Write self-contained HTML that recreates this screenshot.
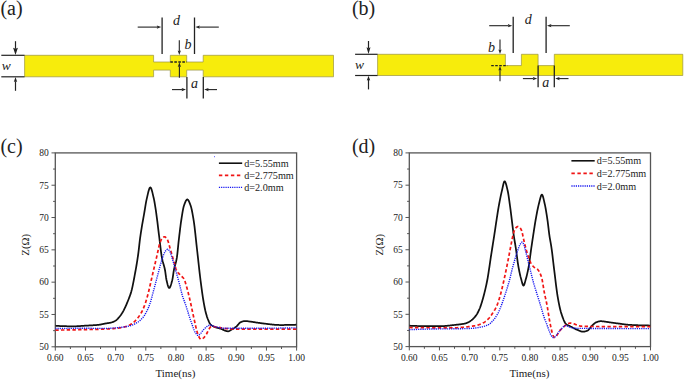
<!DOCTYPE html>
<html><head><meta charset="utf-8"><title>figure</title>
<style>html,body{margin:0;padding:0;background:#fff;width:685px;height:381px;overflow:hidden}</style>
</head><body>
<svg width="685" height="381" viewBox="0 0 685 381" style="display:block;font-family:'Liberation Serif',serif"><text x="0.4" y="14.7" font-size="20" text-anchor="start" fill="#222" style="" >(a)</text>
<path d="M24.6,55.3 L153.6,55.3 L153.6,62.0 L170.3,62.0 L170.3,55.3 L186.7,55.3 L186.7,62.0 L203.2,62.0 L203.2,55.3 L333.5,55.3 L333.5,76.8 L203.2,76.8 L203.2,70.1 L186.7,70.1 L186.7,76.8 L170.3,76.8 L170.3,70.1 L153.6,70.1 L153.6,76.8 L24.6,76.8 Z" fill="#f7ec0c" stroke="#9a9440" stroke-width="0.7"/>
<line x1="1.3" y1="55.3" x2="24.6" y2="55.3" stroke="#222" stroke-width="1.2" />
<line x1="1.3" y1="76.8" x2="24.6" y2="76.8" stroke="#222" stroke-width="1.2" />
<line x1="15.50" y1="41.20" x2="15.50" y2="48.81" stroke="#222" stroke-width="1.2"/>
<path d="M15.50,55.00 L13.10,47.80 L15.50,48.81 L17.90,47.80 Z" fill="#222"/>
<line x1="15.50" y1="90.80" x2="15.50" y2="81.23" stroke="#222" stroke-width="1.2"/>
<path d="M15.50,77.10 L17.20,81.90 L15.50,81.23 L13.80,81.90 Z" fill="#222"/>
<text x="1.8" y="70.3" font-size="13.5" text-anchor="start" fill="#222" style="font-style:italic;" >w</text>
<line x1="162.1" y1="17.5" x2="162.1" y2="54" stroke="#222" stroke-width="1.3" />
<line x1="194.5" y1="17.5" x2="194.5" y2="54" stroke="#222" stroke-width="1.3" />
<line x1="137.70" y1="27.10" x2="157.42" y2="27.10" stroke="#222" stroke-width="1.1"/>
<path d="M161.20,27.10 L156.80,28.70 L157.42,27.10 L156.80,25.50 Z" fill="#222"/>
<line x1="218.80" y1="27.10" x2="199.18" y2="27.10" stroke="#222" stroke-width="1.1"/>
<path d="M195.40,27.10 L199.80,25.50 L199.18,27.10 L199.80,28.70 Z" fill="#222"/>
<text x="173.0" y="25.0" font-size="14" text-anchor="start" fill="#222" style="font-style:italic;" >d</text>
<line x1="179.30" y1="40.20" x2="179.30" y2="51.14" stroke="#222" stroke-width="1.1"/>
<path d="M179.30,55.10 L177.70,50.50 L179.30,51.14 L180.90,50.50 Z" fill="#222"/>
<text x="184.6" y="48.7" font-size="14" text-anchor="start" fill="#222" style="font-style:italic;" >b</text>
<line x1="170.3" y1="62.0" x2="186.7" y2="62.0" stroke="#222" stroke-width="1.3" stroke-dasharray="2.6,1.4"/>
<line x1="179.40" y1="77.80" x2="179.40" y2="66.26" stroke="#222" stroke-width="1.1"/>
<path d="M179.40,62.30 L181.00,66.90 L179.40,66.26 L177.80,66.90 Z" fill="#222"/>
<line x1="186.9" y1="77.0" x2="186.9" y2="98.6" stroke="#222" stroke-width="1.3" />
<line x1="203.3" y1="77.0" x2="203.3" y2="98.6" stroke="#222" stroke-width="1.3" />
<line x1="172.00" y1="89.60" x2="182.22" y2="89.60" stroke="#222" stroke-width="1.1"/>
<path d="M186.00,89.60 L181.60,91.20 L182.22,89.60 L181.60,88.00 Z" fill="#222"/>
<line x1="217.00" y1="89.60" x2="207.98" y2="89.60" stroke="#222" stroke-width="1.1"/>
<path d="M204.20,89.60 L208.60,88.00 L207.98,89.60 L208.60,91.20 Z" fill="#222"/>
<text x="191.0" y="88.2" font-size="14" text-anchor="start" fill="#222" style="font-style:italic;" >a</text>
<text x="351.9" y="14.8" font-size="20" text-anchor="start" fill="#222" style="" >(b)</text>
<path d="M377.6,54.3 L505.4,54.3 L505.4,65.6 L521.4,65.6 L521.4,54.3 L538.1,54.3 L538.1,65.6 L554.3,65.6 L554.3,54.3 L682.8,54.3 L682.8,75.5 L377.6,75.5 Z" fill="#f7ec0c" stroke="#9a9440" stroke-width="0.7"/>
<line x1="355.1" y1="54.3" x2="377.6" y2="54.3" stroke="#222" stroke-width="1.2" />
<line x1="355.1" y1="75.5" x2="377.6" y2="75.5" stroke="#222" stroke-width="1.2" />
<line x1="368.50" y1="41.00" x2="368.50" y2="48.15" stroke="#222" stroke-width="1.2"/>
<path d="M368.50,54.00 L366.50,47.20 L368.50,48.15 L370.50,47.20 Z" fill="#222"/>
<line x1="368.50" y1="89.40" x2="368.50" y2="79.93" stroke="#222" stroke-width="1.2"/>
<path d="M368.50,75.80 L370.20,80.60 L368.50,79.93 L366.80,80.60 Z" fill="#222"/>
<text x="355.0" y="69.2" font-size="13.5" text-anchor="start" fill="#222" style="font-style:italic;" >w</text>
<line x1="513.2" y1="16.7" x2="513.2" y2="53.1" stroke="#222" stroke-width="1.3" />
<line x1="546.1" y1="16.7" x2="546.1" y2="53.1" stroke="#222" stroke-width="1.3" />
<line x1="489.20" y1="25.70" x2="508.52" y2="25.70" stroke="#222" stroke-width="1.1"/>
<path d="M512.30,25.70 L507.90,27.30 L508.52,25.70 L507.90,24.10 Z" fill="#222"/>
<line x1="569.80" y1="25.70" x2="550.78" y2="25.70" stroke="#222" stroke-width="1.1"/>
<path d="M547.00,25.70 L551.40,24.10 L550.78,25.70 L551.40,27.30 Z" fill="#222"/>
<text x="524.8" y="24.4" font-size="14" text-anchor="start" fill="#222" style="font-style:italic;" >d</text>
<line x1="500.00" y1="39.40" x2="500.00" y2="50.14" stroke="#222" stroke-width="1.1"/>
<path d="M500.00,54.10 L498.40,49.50 L500.00,50.14 L501.60,49.50 Z" fill="#222"/>
<text x="488.0" y="52.4" font-size="14" text-anchor="start" fill="#222" style="font-style:italic;" >b</text>
<line x1="491.2" y1="65.6" x2="507.4" y2="65.6" stroke="#222" stroke-width="1.3" stroke-dasharray="2.6,1.4"/>
<line x1="500.00" y1="81.20" x2="500.00" y2="69.86" stroke="#222" stroke-width="1.1"/>
<path d="M500.00,65.90 L501.60,70.50 L500.00,69.86 L498.40,70.50 Z" fill="#222"/>
<line x1="538.1" y1="65.6" x2="538.1" y2="87.3" stroke="#222" stroke-width="1.3" />
<line x1="554.3" y1="65.6" x2="554.3" y2="87.3" stroke="#222" stroke-width="1.3" />
<line x1="522.90" y1="78.60" x2="533.42" y2="78.60" stroke="#222" stroke-width="1.1"/>
<path d="M537.20,78.60 L532.80,80.20 L533.42,78.60 L532.80,77.00 Z" fill="#222"/>
<line x1="568.50" y1="78.60" x2="558.98" y2="78.60" stroke="#222" stroke-width="1.1"/>
<path d="M555.20,78.60 L559.60,77.00 L558.98,78.60 L559.60,80.20 Z" fill="#222"/>
<text x="542.2" y="86.9" font-size="14" text-anchor="start" fill="#222" style="font-style:italic;" >a</text>
<rect x="55.3" y="152.9" width="241.3" height="193.9" fill="none" stroke="#555" stroke-width="1.3"/>
<line x1="51.5" y1="346.8" x2="55.3" y2="346.8" stroke="#555" stroke-width="1.0" />
<text x="48.8" y="350.1" font-size="9.5" text-anchor="end" fill="#222" style="" >50</text>
<line x1="53.099999999999994" y1="330.64" x2="55.3" y2="330.64" stroke="#555" stroke-width="1.0" />
<line x1="51.5" y1="314.48" x2="55.3" y2="314.48" stroke="#555" stroke-width="1.0" />
<text x="48.8" y="317.78333333333336" font-size="9.5" text-anchor="end" fill="#222" style="" >55</text>
<line x1="53.099999999999994" y1="298.32" x2="55.3" y2="298.32" stroke="#555" stroke-width="1.0" />
<line x1="51.5" y1="282.17" x2="55.3" y2="282.17" stroke="#555" stroke-width="1.0" />
<text x="48.8" y="285.4666666666667" font-size="9.5" text-anchor="end" fill="#222" style="" >60</text>
<line x1="53.099999999999994" y1="266.01" x2="55.3" y2="266.01" stroke="#555" stroke-width="1.0" />
<line x1="51.5" y1="249.85" x2="55.3" y2="249.85" stroke="#555" stroke-width="1.0" />
<text x="48.8" y="253.15000000000003" font-size="9.5" text-anchor="end" fill="#222" style="" >65</text>
<line x1="53.099999999999994" y1="233.69" x2="55.3" y2="233.69" stroke="#555" stroke-width="1.0" />
<line x1="51.5" y1="217.53" x2="55.3" y2="217.53" stroke="#555" stroke-width="1.0" />
<text x="48.8" y="220.83333333333334" font-size="9.5" text-anchor="end" fill="#222" style="" >70</text>
<line x1="53.099999999999994" y1="201.38" x2="55.3" y2="201.38" stroke="#555" stroke-width="1.0" />
<line x1="51.5" y1="185.22" x2="55.3" y2="185.22" stroke="#555" stroke-width="1.0" />
<text x="48.8" y="188.51666666666668" font-size="9.5" text-anchor="end" fill="#222" style="" >75</text>
<line x1="53.099999999999994" y1="169.06" x2="55.3" y2="169.06" stroke="#555" stroke-width="1.0" />
<line x1="51.5" y1="152.9" x2="55.3" y2="152.9" stroke="#555" stroke-width="1.0" />
<text x="48.8" y="156.20000000000002" font-size="9.5" text-anchor="end" fill="#222" style="" >80</text>
<line x1="55.3" y1="346.8" x2="55.3" y2="350.6" stroke="#555" stroke-width="1.0" />
<text x="55.3" y="360.7" font-size="9.5" text-anchor="middle" fill="#222" style="" >0.60</text>
<line x1="70.38" y1="346.8" x2="70.38" y2="349.0" stroke="#555" stroke-width="1.0" />
<line x1="85.46" y1="346.8" x2="85.46" y2="350.6" stroke="#555" stroke-width="1.0" />
<text x="85.4625" y="360.7" font-size="9.5" text-anchor="middle" fill="#222" style="" >0.65</text>
<line x1="100.54" y1="346.8" x2="100.54" y2="349.0" stroke="#555" stroke-width="1.0" />
<line x1="115.62" y1="346.8" x2="115.62" y2="350.6" stroke="#555" stroke-width="1.0" />
<text x="115.625" y="360.7" font-size="9.5" text-anchor="middle" fill="#222" style="" >0.70</text>
<line x1="130.71" y1="346.8" x2="130.71" y2="349.0" stroke="#555" stroke-width="1.0" />
<line x1="145.79" y1="346.8" x2="145.79" y2="350.6" stroke="#555" stroke-width="1.0" />
<text x="145.78750000000002" y="360.7" font-size="9.5" text-anchor="middle" fill="#222" style="" >0.75</text>
<line x1="160.87" y1="346.8" x2="160.87" y2="349.0" stroke="#555" stroke-width="1.0" />
<line x1="175.95" y1="346.8" x2="175.95" y2="350.6" stroke="#555" stroke-width="1.0" />
<text x="175.95" y="360.7" font-size="9.5" text-anchor="middle" fill="#222" style="" >0.80</text>
<line x1="191.03" y1="346.8" x2="191.03" y2="349.0" stroke="#555" stroke-width="1.0" />
<line x1="206.11" y1="346.8" x2="206.11" y2="350.6" stroke="#555" stroke-width="1.0" />
<text x="206.1125" y="360.7" font-size="9.5" text-anchor="middle" fill="#222" style="" >0.85</text>
<line x1="221.19" y1="346.8" x2="221.19" y2="349.0" stroke="#555" stroke-width="1.0" />
<line x1="236.28" y1="346.8" x2="236.28" y2="350.6" stroke="#555" stroke-width="1.0" />
<text x="236.27500000000003" y="360.7" font-size="9.5" text-anchor="middle" fill="#222" style="" >0.90</text>
<line x1="251.36" y1="346.8" x2="251.36" y2="349.0" stroke="#555" stroke-width="1.0" />
<line x1="266.44" y1="346.8" x2="266.44" y2="350.6" stroke="#555" stroke-width="1.0" />
<text x="266.4375" y="360.7" font-size="9.5" text-anchor="middle" fill="#222" style="" >0.95</text>
<line x1="281.52" y1="346.8" x2="281.52" y2="349.0" stroke="#555" stroke-width="1.0" />
<line x1="296.6" y1="346.8" x2="296.6" y2="350.6" stroke="#555" stroke-width="1.0" />
<text x="296.6" y="360.7" font-size="9.5" text-anchor="middle" fill="#222" style="" >1.00</text>
<text x="175.45000000000002" y="377.3" font-size="11" text-anchor="middle" fill="#1a1a1a" style="" >Time(ns)</text>
<text x="0" y="0" font-size="10.7" text-anchor="middle" fill="#1a1a1a" transform="translate(28.999999999999996,244.85000000000002) rotate(-90)">Z(Ω)</text>
<clipPath id="clip55"><rect x="55.3" y="152.9" width="241.3" height="193.9"/></clipPath>
<g clip-path="url(#clip55)" fill="none">
<path d="M55.30,325.70 L55.70,325.73 L56.10,325.77 L56.50,325.80 L56.90,325.83 L57.30,325.86 L57.70,325.89 L58.10,325.91 L58.50,325.94 L58.90,325.96 L59.30,325.98 L59.70,326.01 L60.10,326.03 L60.50,326.05 L60.90,326.07 L61.30,326.09 L61.70,326.10 L62.10,326.12 L62.50,326.13 L62.90,326.15 L63.30,326.16 L63.70,326.18 L64.10,326.19 L64.50,326.20 L64.90,326.21 L65.30,326.22 L65.70,326.23 L66.10,326.24 L66.50,326.24 L66.90,326.25 L67.30,326.26 L67.70,326.26 L68.10,326.27 L68.50,326.27 L68.90,326.28 L69.30,326.28 L69.70,326.29 L70.10,326.29 L70.50,326.29 L70.90,326.29 L71.30,326.29 L71.70,326.30 L72.10,326.30 L72.50,326.30 L72.90,326.30 L73.30,326.30 L73.70,326.30 L74.10,326.30 L74.50,326.30 L74.90,326.29 L75.30,326.28 L75.70,326.27 L76.10,326.26 L76.50,326.25 L76.90,326.23 L77.30,326.21 L77.70,326.19 L78.10,326.17 L78.50,326.15 L78.90,326.12 L79.30,326.09 L79.70,326.07 L80.10,326.04 L80.50,326.01 L80.90,325.98 L81.30,325.95 L81.70,325.93 L82.10,325.90 L82.50,325.87 L82.90,325.84 L83.30,325.81 L83.70,325.78 L84.10,325.76 L84.50,325.73 L84.90,325.71 L85.30,325.68 L85.70,325.66 L86.10,325.64 L86.50,325.61 L86.90,325.59 L87.30,325.57 L87.70,325.55 L88.10,325.53 L88.50,325.51 L88.90,325.49 L89.30,325.47 L89.70,325.45 L90.10,325.43 L90.50,325.40 L90.90,325.38 L91.30,325.36 L91.70,325.34 L92.10,325.32 L92.50,325.29 L92.90,325.27 L93.30,325.24 L93.70,325.22 L94.10,325.19 L94.50,325.17 L94.90,325.14 L95.30,325.11 L95.70,325.08 L96.10,325.05 L96.50,325.01 L96.90,324.98 L97.30,324.95 L97.70,324.91 L98.10,324.87 L98.50,324.83 L98.90,324.79 L99.30,324.74 L99.70,324.68 L100.10,324.62 L100.50,324.55 L100.90,324.47 L101.30,324.39 L101.70,324.31 L102.10,324.22 L102.50,324.13 L102.90,324.04 L103.30,323.95 L103.70,323.86 L104.10,323.78 L104.50,323.70 L104.90,323.62 L105.30,323.55 L105.70,323.48 L106.10,323.41 L106.50,323.35 L106.90,323.29 L107.30,323.23 L107.70,323.17 L108.10,323.11 L108.50,323.05 L108.90,322.99 L109.30,322.92 L109.70,322.85 L110.10,322.77 L110.50,322.69 L110.90,322.60 L111.30,322.50 L111.70,322.39 L112.10,322.27 L112.50,322.13 L112.90,321.99 L113.30,321.82 L113.70,321.65 L114.10,321.46 L114.50,321.26 L114.90,321.05 L115.30,320.82 L115.70,320.57 L116.10,320.29 L116.50,319.97 L116.90,319.61 L117.30,319.22 L117.70,318.81 L118.10,318.37 L118.50,317.92 L118.90,317.45 L119.30,316.98 L119.70,316.50 L120.10,316.01 L120.50,315.48 L120.90,314.93 L121.30,314.35 L121.70,313.75 L122.10,313.12 L122.50,312.47 L122.90,311.80 L123.30,311.09 L123.70,310.35 L124.10,309.56 L124.50,308.74 L124.90,307.90 L125.30,307.04 L125.70,306.16 L126.10,305.28 L126.50,304.36 L126.90,303.42 L127.30,302.45 L127.70,301.46 L128.10,300.46 L128.50,299.45 L128.90,298.45 L129.30,297.44 L129.70,296.39 L130.10,295.29 L130.50,294.11 L130.90,292.86 L131.30,291.51 L131.70,290.01 L132.10,288.36 L132.50,286.57 L132.90,284.66 L133.30,282.66 L133.70,280.59 L134.10,278.47 L134.50,276.32 L134.90,274.16 L135.30,271.99 L135.70,269.80 L136.10,267.55 L136.50,265.24 L136.90,262.84 L137.30,260.35 L137.70,257.74 L138.10,255.00 L138.50,251.95 L138.90,248.54 L139.30,244.97 L139.70,241.46 L140.10,238.18 L140.50,235.30 L140.90,232.60 L141.30,230.03 L141.70,227.56 L142.10,225.17 L142.50,222.85 L142.90,220.57 L143.30,218.31 L143.70,216.06 L144.10,213.80 L144.50,211.50 L144.90,209.11 L145.30,206.65 L145.70,204.22 L146.10,201.92 L146.50,199.85 L146.90,198.08 L147.30,196.36 L147.70,194.62 L148.10,192.92 L148.50,191.32 L148.90,189.92 L149.30,188.75 L149.70,187.91 L150.10,187.46 L150.50,187.46 L150.90,187.91 L151.30,188.74 L151.70,189.89 L152.10,191.29 L152.50,192.87 L152.90,194.58 L153.30,196.33 L153.70,198.07 L154.10,199.87 L154.50,201.97 L154.90,204.32 L155.30,206.85 L155.70,209.49 L156.10,212.18 L156.50,215.02 L156.90,218.05 L157.30,221.21 L157.70,224.47 L158.10,227.77 L158.50,231.07 L158.90,234.32 L159.30,237.49 L159.70,240.79 L160.10,244.22 L160.50,247.63 L160.90,250.92 L161.30,253.94 L161.70,256.57 L162.10,258.71 L162.50,260.49 L162.90,262.02 L163.30,263.41 L163.70,264.75 L164.10,266.15 L164.50,267.70 L164.90,269.50 L165.30,271.82 L165.70,274.78 L166.10,277.73 L166.50,280.00 L166.90,281.71 L167.30,283.38 L167.70,284.91 L168.10,286.23 L168.50,287.24 L168.90,287.85 L169.30,287.99 L169.70,287.70 L170.10,287.08 L170.50,286.17 L170.90,285.03 L171.30,283.71 L171.70,282.27 L172.10,280.76 L172.50,279.10 L172.90,276.65 L173.30,273.82 L173.70,271.12 L174.10,269.03 L174.50,267.33 L174.90,265.83 L175.30,264.44 L175.70,263.01 L176.10,261.45 L176.50,259.62 L176.90,257.39 L177.30,254.35 L177.70,250.66 L178.10,246.66 L178.50,242.71 L178.90,239.15 L179.30,235.72 L179.70,232.30 L180.10,228.95 L180.50,225.74 L180.90,222.73 L181.30,220.00 L181.70,217.41 L182.10,214.85 L182.50,212.40 L182.90,210.13 L183.30,208.13 L183.70,206.47 L184.10,205.22 L184.50,204.12 L184.90,203.06 L185.30,202.07 L185.70,201.19 L186.10,200.46 L186.50,199.89 L186.90,199.53 L187.30,199.40 L187.70,199.53 L188.10,199.91 L188.50,200.49 L188.90,201.24 L189.30,202.12 L189.70,203.10 L190.10,204.15 L190.50,205.23 L190.90,206.39 L191.30,207.84 L191.70,209.54 L192.10,211.46 L192.50,213.56 L192.90,215.81 L193.30,218.18 L193.70,220.63 L194.10,223.38 L194.50,226.48 L194.90,229.85 L195.30,233.42 L195.70,237.12 L196.10,240.87 L196.50,244.60 L196.90,248.24 L197.30,251.75 L197.70,255.33 L198.10,258.96 L198.50,262.62 L198.90,266.26 L199.30,269.86 L199.70,273.37 L200.10,276.76 L200.50,280.00 L200.90,283.13 L201.30,286.21 L201.70,289.21 L202.10,292.11 L202.50,294.90 L202.90,297.53 L203.30,300.00 L203.70,302.34 L204.10,304.59 L204.50,306.73 L204.90,308.73 L205.30,310.56 L205.70,312.19 L206.10,313.70 L206.50,315.11 L206.90,316.43 L207.30,317.63 L207.70,318.74 L208.10,319.74 L208.50,320.70 L208.90,321.62 L209.30,322.47 L209.70,323.22 L210.10,323.84 L210.50,324.30 L210.90,324.69 L211.30,325.03 L211.70,325.35 L212.10,325.63 L212.50,325.89 L212.90,326.13 L213.30,326.34 L213.70,326.54 L214.10,326.73 L214.50,326.90 L214.90,327.06 L215.30,327.21 L215.70,327.35 L216.10,327.47 L216.50,327.59 L216.90,327.70 L217.30,327.81 L217.70,327.91 L218.10,328.01 L218.50,328.11 L218.90,328.21 L219.30,328.32 L219.70,328.42 L220.10,328.54 L220.50,328.66 L220.90,328.79 L221.30,328.94 L221.70,329.10 L222.10,329.28 L222.50,329.48 L222.90,329.68 L223.30,329.88 L223.70,330.08 L224.10,330.26 L224.50,330.43 L224.90,330.57 L225.30,330.69 L225.70,330.82 L226.10,330.94 L226.50,331.05 L226.90,331.15 L227.30,331.23 L227.70,331.28 L228.10,331.30 L228.50,331.26 L228.90,331.17 L229.30,331.01 L229.70,330.82 L230.10,330.59 L230.50,330.35 L230.90,330.09 L231.30,329.83 L231.70,329.58 L232.10,329.34 L232.50,329.11 L232.90,328.88 L233.30,328.64 L233.70,328.39 L234.10,328.13 L234.50,327.86 L234.90,327.59 L235.30,327.30 L235.70,327.01 L236.10,326.70 L236.50,326.38 L236.90,326.03 L237.30,325.62 L237.70,325.16 L238.10,324.68 L238.50,324.18 L238.90,323.70 L239.30,323.25 L239.70,322.86 L240.10,322.53 L240.50,322.30 L240.90,322.12 L241.30,321.95 L241.70,321.79 L242.10,321.63 L242.50,321.49 L242.90,321.36 L243.30,321.25 L243.70,321.15 L244.10,321.08 L244.50,321.03 L244.90,321.00 L245.30,321.00 L245.70,321.01 L246.10,321.04 L246.50,321.07 L246.90,321.11 L247.30,321.15 L247.70,321.21 L248.10,321.26 L248.50,321.32 L248.90,321.38 L249.30,321.45 L249.70,321.51 L250.10,321.57 L250.50,321.63 L250.90,321.69 L251.30,321.74 L251.70,321.79 L252.10,321.85 L252.50,321.90 L252.90,321.96 L253.30,322.02 L253.70,322.08 L254.10,322.14 L254.50,322.20 L254.90,322.26 L255.30,322.32 L255.70,322.38 L256.10,322.45 L256.50,322.51 L256.90,322.57 L257.30,322.63 L257.70,322.69 L258.10,322.76 L258.50,322.82 L258.90,322.88 L259.30,322.94 L259.70,322.99 L260.10,323.05 L260.50,323.11 L260.90,323.16 L261.30,323.21 L261.70,323.27 L262.10,323.32 L262.50,323.36 L262.90,323.41 L263.30,323.46 L263.70,323.51 L264.10,323.55 L264.50,323.60 L264.90,323.65 L265.30,323.70 L265.70,323.75 L266.10,323.80 L266.50,323.85 L266.90,323.90 L267.30,323.95 L267.70,324.01 L268.10,324.06 L268.50,324.11 L268.90,324.16 L269.30,324.20 L269.70,324.25 L270.10,324.30 L270.50,324.35 L270.90,324.39 L271.30,324.44 L271.70,324.48 L272.10,324.53 L272.50,324.57 L272.90,324.61 L273.30,324.65 L273.70,324.69 L274.10,324.72 L274.50,324.76 L274.90,324.79 L275.30,324.82 L275.70,324.85 L276.10,324.87 L276.50,324.90 L276.90,324.92 L277.30,324.94 L277.70,324.96 L278.10,324.97 L278.50,324.98 L278.90,324.99 L279.30,325.00 L279.70,325.00 L280.10,325.00 L280.50,325.00 L280.90,325.00 L281.30,325.00 L281.70,325.00 L282.10,325.00 L282.50,325.00 L282.90,325.00 L283.30,325.00 L283.70,325.00 L284.10,325.00 L284.50,324.99 L284.90,324.99 L285.30,324.99 L285.70,324.99 L286.10,324.98 L286.50,324.98 L286.90,324.98 L287.30,324.97 L287.70,324.97 L288.10,324.96 L288.50,324.96 L288.90,324.95 L289.30,324.95 L289.70,324.94 L290.10,324.93 L290.50,324.92 L290.90,324.91 L291.30,324.90 L291.70,324.89 L292.10,324.88 L292.50,324.87 L292.90,324.86 L293.30,324.84 L293.70,324.83 L294.10,324.81 L294.50,324.80 L294.90,324.78 L295.30,324.76 L295.70,324.74 L296.10,324.72 L296.50,324.70" stroke="#111" stroke-width="1.75" stroke-linejoin="round"/>
<path d="M55.30,330.10 L55.70,330.10 L56.10,330.09 L56.50,330.09 L56.90,330.08 L57.30,330.08 L57.70,330.07 L58.10,330.06 L58.50,330.06 L58.90,330.05 L59.30,330.05 L59.70,330.04 L60.10,330.04 L60.50,330.03 L60.90,330.03 L61.30,330.02 L61.70,330.02 L62.10,330.01 L62.50,330.00 L62.90,330.00 L63.30,329.99 L63.70,329.99 L64.10,329.98 L64.50,329.97 L64.90,329.97 L65.30,329.96 L65.70,329.95 L66.10,329.95 L66.50,329.94 L66.90,329.94 L67.30,329.93 L67.70,329.92 L68.10,329.92 L68.50,329.91 L68.90,329.90 L69.30,329.90 L69.70,329.89 L70.10,329.88 L70.50,329.88 L70.90,329.87 L71.30,329.86 L71.70,329.85 L72.10,329.85 L72.50,329.84 L72.90,329.83 L73.30,329.83 L73.70,329.82 L74.10,329.81 L74.50,329.80 L74.90,329.80 L75.30,329.79 L75.70,329.78 L76.10,329.77 L76.50,329.77 L76.90,329.76 L77.30,329.75 L77.70,329.74 L78.10,329.74 L78.50,329.73 L78.90,329.72 L79.30,329.71 L79.70,329.71 L80.10,329.70 L80.50,329.69 L80.90,329.68 L81.30,329.67 L81.70,329.67 L82.10,329.66 L82.50,329.65 L82.90,329.64 L83.30,329.63 L83.70,329.63 L84.10,329.62 L84.50,329.61 L84.90,329.60 L85.30,329.59 L85.70,329.59 L86.10,329.58 L86.50,329.57 L86.90,329.56 L87.30,329.55 L87.70,329.55 L88.10,329.54 L88.50,329.53 L88.90,329.52 L89.30,329.51 L89.70,329.51 L90.10,329.50 L90.50,329.49 L90.90,329.48 L91.30,329.47 L91.70,329.47 L92.10,329.46 L92.50,329.45 L92.90,329.44 L93.30,329.43 L93.70,329.42 L94.10,329.41 L94.50,329.41 L94.90,329.40 L95.30,329.39 L95.70,329.38 L96.10,329.37 L96.50,329.36 L96.90,329.35 L97.30,329.34 L97.70,329.33 L98.10,329.32 L98.50,329.31 L98.90,329.30 L99.30,329.29 L99.70,329.27 L100.10,329.26 L100.50,329.25 L100.90,329.24 L101.30,329.23 L101.70,329.21 L102.10,329.20 L102.50,329.19 L102.90,329.18 L103.30,329.16 L103.70,329.15 L104.10,329.13 L104.50,329.12 L104.90,329.10 L105.30,329.09 L105.70,329.07 L106.10,329.05 L106.50,329.04 L106.90,329.02 L107.30,329.00 L107.70,328.98 L108.10,328.96 L108.50,328.93 L108.90,328.91 L109.30,328.89 L109.70,328.86 L110.10,328.84 L110.50,328.81 L110.90,328.78 L111.30,328.76 L111.70,328.73 L112.10,328.70 L112.50,328.66 L112.90,328.63 L113.30,328.60 L113.70,328.57 L114.10,328.53 L114.50,328.49 L114.90,328.46 L115.30,328.42 L115.70,328.38 L116.10,328.34 L116.50,328.30 L116.90,328.25 L117.30,328.20 L117.70,328.15 L118.10,328.10 L118.50,328.04 L118.90,327.98 L119.30,327.92 L119.70,327.86 L120.10,327.80 L120.50,327.73 L120.90,327.66 L121.30,327.58 L121.70,327.51 L122.10,327.43 L122.50,327.34 L122.90,327.26 L123.30,327.17 L123.70,327.08 L124.10,326.99 L124.50,326.89 L124.90,326.79 L125.30,326.69 L125.70,326.58 L126.10,326.47 L126.50,326.35 L126.90,326.22 L127.30,326.07 L127.70,325.92 L128.10,325.75 L128.50,325.57 L128.90,325.38 L129.30,325.18 L129.70,324.97 L130.10,324.75 L130.50,324.53 L130.90,324.29 L131.30,324.04 L131.70,323.79 L132.10,323.53 L132.50,323.26 L132.90,322.97 L133.30,322.65 L133.70,322.31 L134.10,321.95 L134.50,321.56 L134.90,321.16 L135.30,320.74 L135.70,320.31 L136.10,319.86 L136.50,319.41 L136.90,318.94 L137.30,318.46 L137.70,317.98 L138.10,317.48 L138.50,316.97 L138.90,316.43 L139.30,315.87 L139.70,315.29 L140.10,314.68 L140.50,314.05 L140.90,313.39 L141.30,312.70 L141.70,311.98 L142.10,311.23 L142.50,310.41 L142.90,309.54 L143.30,308.62 L143.70,307.65 L144.10,306.64 L144.50,305.58 L144.90,304.50 L145.30,303.36 L145.70,302.14 L146.10,300.86 L146.50,299.52 L146.90,298.14 L147.30,296.72 L147.70,295.26 L148.10,293.72 L148.50,292.11 L148.90,290.46 L149.30,288.78 L149.70,287.05 L150.10,285.31 L150.50,283.54 L150.90,281.76 L151.30,279.98 L151.70,278.20 L152.10,276.44 L152.50,274.70 L152.90,272.98 L153.30,271.26 L153.70,269.55 L154.10,267.84 L154.50,266.14 L154.90,264.44 L155.30,262.73 L155.70,261.03 L156.10,259.32 L156.50,257.60 L156.90,255.87 L157.30,254.11 L157.70,252.22 L158.10,250.28 L158.50,248.36 L158.90,246.57 L159.30,244.99 L159.70,243.70 L160.10,242.55 L160.50,241.47 L160.90,240.50 L161.30,239.66 L161.70,238.98 L162.10,238.49 L162.50,238.08 L162.90,237.69 L163.30,237.35 L163.70,237.08 L164.10,236.89 L164.50,236.80 L164.90,236.85 L165.30,237.05 L165.70,237.38 L166.10,237.81 L166.50,238.33 L166.90,238.90 L167.30,239.50 L167.70,240.28 L168.10,241.34 L168.50,242.62 L168.90,244.04 L169.30,245.53 L169.70,247.01 L170.10,248.40 L170.50,249.75 L170.90,251.12 L171.30,252.52 L171.70,253.93 L172.10,255.36 L172.50,256.78 L172.90,258.19 L173.30,259.59 L173.70,260.96 L174.10,262.35 L174.50,263.83 L174.90,265.33 L175.30,266.80 L175.70,268.16 L176.10,269.35 L176.50,270.31 L176.90,271.03 L177.30,271.66 L177.70,272.22 L178.10,272.73 L178.50,273.19 L178.90,273.62 L179.30,274.04 L179.70,274.45 L180.10,274.88 L180.50,275.32 L180.90,275.71 L181.30,276.07 L181.70,276.41 L182.10,276.76 L182.50,277.12 L182.90,277.52 L183.30,277.97 L183.70,278.50 L184.10,279.14 L184.50,280.02 L184.90,281.09 L185.30,282.31 L185.70,283.64 L186.10,285.03 L186.50,286.42 L186.90,287.79 L187.30,289.23 L187.70,290.74 L188.10,292.31 L188.50,293.93 L188.90,295.59 L189.30,297.26 L189.70,298.95 L190.10,300.68 L190.50,302.47 L190.90,304.29 L191.30,306.14 L191.70,308.01 L192.10,309.88 L192.50,311.75 L192.90,313.61 L193.30,315.45 L193.70,317.25 L194.10,319.05 L194.50,320.88 L194.90,322.73 L195.30,324.56 L195.70,326.34 L196.10,328.04 L196.50,329.61 L196.90,331.05 L197.30,332.43 L197.70,333.76 L198.10,334.97 L198.50,335.99 L198.90,336.78 L199.30,337.48 L199.70,338.14 L200.10,338.69 L200.50,339.06 L200.90,339.20 L201.30,339.16 L201.70,339.04 L202.10,338.86 L202.50,338.64 L202.90,338.39 L203.30,338.13 L203.70,337.79 L204.10,337.36 L204.50,336.87 L204.90,336.34 L205.30,335.80 L205.70,335.27 L206.10,334.68 L206.50,334.01 L206.90,333.27 L207.30,332.50 L207.70,331.69 L208.10,330.89 L208.50,330.09 L208.90,329.33 L209.30,328.62 L209.70,327.99 L210.10,327.44 L210.50,327.00 L210.90,326.69 L211.30,326.52 L211.70,326.50 L212.10,326.51 L212.50,326.53 L212.90,326.55 L213.30,326.58 L213.70,326.62 L214.10,326.66 L214.50,326.71 L214.90,326.76 L215.30,326.81 L215.70,326.87 L216.10,326.93 L216.50,326.98 L216.90,327.04 L217.30,327.10 L217.70,327.16 L218.10,327.21 L218.50,327.27 L218.90,327.34 L219.30,327.42 L219.70,327.50 L220.10,327.59 L220.50,327.67 L220.90,327.76 L221.30,327.85 L221.70,327.94 L222.10,328.03 L222.50,328.12 L222.90,328.20 L223.30,328.27 L223.70,328.34 L224.10,328.40 L224.50,328.45 L224.90,328.49 L225.30,328.52 L225.70,328.56 L226.10,328.59 L226.50,328.62 L226.90,328.65 L227.30,328.68 L227.70,328.71 L228.10,328.73 L228.50,328.76 L228.90,328.79 L229.30,328.82 L229.70,328.84 L230.10,328.87 L230.50,328.89 L230.90,328.91 L231.30,328.94 L231.70,328.96 L232.10,328.98 L232.50,329.00 L232.90,329.02 L233.30,329.04 L233.70,329.06 L234.10,329.07 L234.50,329.09 L234.90,329.10 L235.30,329.12 L235.70,329.13 L236.10,329.14 L236.50,329.15 L236.90,329.16 L237.30,329.17 L237.70,329.18 L238.10,329.19 L238.50,329.19 L238.90,329.20 L239.30,329.20 L239.70,329.20 L240.10,329.20 L240.50,329.20 L240.90,329.20 L241.30,329.20 L241.70,329.20 L242.10,329.20 L242.50,329.20 L242.90,329.20 L243.30,329.20 L243.70,329.20 L244.10,329.20 L244.50,329.20 L244.90,329.20 L245.30,329.20 L245.70,329.20 L246.10,329.20 L246.50,329.20 L246.90,329.20 L247.30,329.20 L247.70,329.20 L248.10,329.20 L248.50,329.20 L248.90,329.20 L249.30,329.20 L249.70,329.20 L250.10,329.20 L250.50,329.20 L250.90,329.20 L251.30,329.20 L251.70,329.20 L252.10,329.20 L252.50,329.20 L252.90,329.20 L253.30,329.20 L253.70,329.20 L254.10,329.20 L254.50,329.20 L254.90,329.20 L255.30,329.20 L255.70,329.20 L256.10,329.20 L256.50,329.20 L256.90,329.20 L257.30,329.20 L257.70,329.20 L258.10,329.20 L258.50,329.20 L258.90,329.20 L259.30,329.20 L259.70,329.20 L260.10,329.20 L260.50,329.20 L260.90,329.20 L261.30,329.20 L261.70,329.20 L262.10,329.20 L262.50,329.20 L262.90,329.20 L263.30,329.20 L263.70,329.20 L264.10,329.20 L264.50,329.20 L264.90,329.20 L265.30,329.20 L265.70,329.20 L266.10,329.20 L266.50,329.20 L266.90,329.20 L267.30,329.20 L267.70,329.20 L268.10,329.20 L268.50,329.20 L268.90,329.20 L269.30,329.20 L269.70,329.20 L270.10,329.20 L270.50,329.20 L270.90,329.20 L271.30,329.20 L271.70,329.20 L272.10,329.20 L272.50,329.20 L272.90,329.20 L273.30,329.20 L273.70,329.20 L274.10,329.20 L274.50,329.20 L274.90,329.20 L275.30,329.20 L275.70,329.20 L276.10,329.20 L276.50,329.20 L276.90,329.20 L277.30,329.20 L277.70,329.20 L278.10,329.20 L278.50,329.20 L278.90,329.20 L279.30,329.20 L279.70,329.20 L280.10,329.20 L280.50,329.20 L280.90,329.20 L281.30,329.20 L281.70,329.20 L282.10,329.20 L282.50,329.20 L282.90,329.20 L283.30,329.20 L283.70,329.20 L284.10,329.20 L284.50,329.20 L284.90,329.20 L285.30,329.20 L285.70,329.20 L286.10,329.20 L286.50,329.20 L286.90,329.20 L287.30,329.20 L287.70,329.20 L288.10,329.20 L288.50,329.20 L288.90,329.20 L289.30,329.20 L289.70,329.20 L290.10,329.20 L290.50,329.20 L290.90,329.20 L291.30,329.20 L291.70,329.20 L292.10,329.20 L292.50,329.20 L292.90,329.20 L293.30,329.20 L293.70,329.20 L294.10,329.20 L294.50,329.20 L294.90,329.20 L295.30,329.20 L295.70,329.20 L296.10,329.20 L296.50,329.20" stroke="#f01515" stroke-width="1.7" stroke-dasharray="3.4,2.3" stroke-linejoin="round"/>
<path d="M55.30,328.50 L55.70,328.49 L56.10,328.49 L56.50,328.48 L56.90,328.48 L57.30,328.47 L57.70,328.47 L58.10,328.46 L58.50,328.46 L58.90,328.45 L59.30,328.45 L59.70,328.44 L60.10,328.44 L60.50,328.44 L60.90,328.43 L61.30,328.43 L61.70,328.42 L62.10,328.42 L62.50,328.41 L62.90,328.41 L63.30,328.41 L63.70,328.40 L64.10,328.40 L64.50,328.39 L64.90,328.39 L65.30,328.39 L65.70,328.38 L66.10,328.38 L66.50,328.38 L66.90,328.37 L67.30,328.37 L67.70,328.37 L68.10,328.36 L68.50,328.36 L68.90,328.36 L69.30,328.35 L69.70,328.35 L70.10,328.35 L70.50,328.35 L70.90,328.34 L71.30,328.34 L71.70,328.34 L72.10,328.34 L72.50,328.33 L72.90,328.33 L73.30,328.33 L73.70,328.33 L74.10,328.33 L74.50,328.32 L74.90,328.32 L75.30,328.32 L75.70,328.32 L76.10,328.32 L76.50,328.32 L76.90,328.31 L77.30,328.31 L77.70,328.31 L78.10,328.31 L78.50,328.31 L78.90,328.31 L79.30,328.31 L79.70,328.31 L80.10,328.31 L80.50,328.30 L80.90,328.30 L81.30,328.30 L81.70,328.30 L82.10,328.30 L82.50,328.30 L82.90,328.30 L83.30,328.30 L83.70,328.30 L84.10,328.30 L84.50,328.30 L84.90,328.30 L85.30,328.30 L85.70,328.30 L86.10,328.30 L86.50,328.30 L86.90,328.30 L87.30,328.30 L87.70,328.30 L88.10,328.31 L88.50,328.31 L88.90,328.31 L89.30,328.31 L89.70,328.31 L90.10,328.32 L90.50,328.32 L90.90,328.32 L91.30,328.32 L91.70,328.33 L92.10,328.33 L92.50,328.33 L92.90,328.33 L93.30,328.34 L93.70,328.34 L94.10,328.34 L94.50,328.35 L94.90,328.35 L95.30,328.35 L95.70,328.36 L96.10,328.36 L96.50,328.36 L96.90,328.36 L97.30,328.37 L97.70,328.37 L98.10,328.37 L98.50,328.38 L98.90,328.38 L99.30,328.38 L99.70,328.38 L100.10,328.38 L100.50,328.39 L100.90,328.39 L101.30,328.39 L101.70,328.39 L102.10,328.39 L102.50,328.40 L102.90,328.40 L103.30,328.40 L103.70,328.40 L104.10,328.40 L104.50,328.40 L104.90,328.40 L105.30,328.40 L105.70,328.40 L106.10,328.39 L106.50,328.39 L106.90,328.38 L107.30,328.37 L107.70,328.36 L108.10,328.35 L108.50,328.33 L108.90,328.32 L109.30,328.30 L109.70,328.28 L110.10,328.26 L110.50,328.24 L110.90,328.22 L111.30,328.20 L111.70,328.17 L112.10,328.15 L112.50,328.12 L112.90,328.09 L113.30,328.06 L113.70,328.03 L114.10,328.00 L114.50,327.97 L114.90,327.94 L115.30,327.91 L115.70,327.87 L116.10,327.84 L116.50,327.80 L116.90,327.77 L117.30,327.73 L117.70,327.70 L118.10,327.66 L118.50,327.62 L118.90,327.58 L119.30,327.55 L119.70,327.51 L120.10,327.47 L120.50,327.43 L120.90,327.39 L121.30,327.35 L121.70,327.30 L122.10,327.26 L122.50,327.21 L122.90,327.16 L123.30,327.10 L123.70,327.04 L124.10,326.98 L124.50,326.92 L124.90,326.85 L125.30,326.78 L125.70,326.71 L126.10,326.63 L126.50,326.56 L126.90,326.47 L127.30,326.39 L127.70,326.30 L128.10,326.22 L128.50,326.12 L128.90,326.03 L129.30,325.93 L129.70,325.83 L130.10,325.73 L130.50,325.62 L130.90,325.50 L131.30,325.37 L131.70,325.24 L132.10,325.09 L132.50,324.94 L132.90,324.77 L133.30,324.60 L133.70,324.42 L134.10,324.24 L134.50,324.04 L134.90,323.84 L135.30,323.63 L135.70,323.41 L136.10,323.19 L136.50,322.96 L136.90,322.73 L137.30,322.48 L137.70,322.24 L138.10,321.98 L138.50,321.70 L138.90,321.40 L139.30,321.08 L139.70,320.75 L140.10,320.40 L140.50,320.03 L140.90,319.65 L141.30,319.25 L141.70,318.83 L142.10,318.40 L142.50,317.95 L142.90,317.48 L143.30,316.98 L143.70,316.45 L144.10,315.87 L144.50,315.26 L144.90,314.62 L145.30,313.95 L145.70,313.25 L146.10,312.52 L146.50,311.77 L146.90,311.00 L147.30,310.19 L147.70,309.34 L148.10,308.44 L148.50,307.48 L148.90,306.48 L149.30,305.43 L149.70,304.34 L150.10,303.19 L150.50,301.98 L150.90,300.65 L151.30,299.22 L151.70,297.73 L152.10,296.20 L152.50,294.65 L152.90,293.12 L153.30,291.63 L153.70,290.15 L154.10,288.66 L154.50,287.16 L154.90,285.66 L155.30,284.15 L155.70,282.64 L156.10,281.13 L156.50,279.61 L156.90,278.10 L157.30,276.59 L157.70,275.08 L158.10,273.56 L158.50,272.02 L158.90,270.46 L159.30,268.90 L159.70,267.37 L160.10,265.86 L160.50,264.40 L160.90,263.00 L161.30,261.64 L161.70,260.29 L162.10,258.98 L162.50,257.74 L162.90,256.59 L163.30,255.55 L163.70,254.55 L164.10,253.59 L164.50,252.69 L164.90,251.90 L165.30,251.26 L165.70,250.76 L166.10,250.30 L166.50,249.87 L166.90,249.52 L167.30,249.29 L167.70,249.20 L168.10,249.31 L168.50,249.63 L168.90,250.09 L169.30,250.67 L169.70,251.31 L170.10,251.98 L170.50,252.87 L170.90,254.01 L171.30,255.30 L171.70,256.63 L172.10,257.92 L172.50,259.21 L172.90,260.55 L173.30,261.93 L173.70,263.33 L174.10,264.76 L174.50,266.20 L174.90,267.64 L175.30,269.08 L175.70,270.50 L176.10,271.91 L176.50,273.32 L176.90,274.73 L177.30,276.14 L177.70,277.56 L178.10,279.00 L178.50,280.44 L178.90,281.91 L179.30,283.40 L179.70,284.95 L180.10,286.57 L180.50,288.23 L180.90,289.89 L181.30,291.53 L181.70,293.12 L182.10,294.62 L182.50,296.00 L182.90,297.26 L183.30,298.43 L183.70,299.54 L184.10,300.61 L184.50,301.67 L184.90,302.74 L185.30,303.84 L185.70,305.00 L186.10,306.20 L186.50,307.44 L186.90,308.70 L187.30,309.98 L187.70,311.27 L188.10,312.57 L188.50,313.86 L188.90,315.15 L189.30,316.42 L189.70,317.66 L190.10,318.88 L190.50,320.06 L190.90,321.20 L191.30,322.33 L191.70,323.49 L192.10,324.66 L192.50,325.81 L192.90,326.95 L193.30,328.05 L193.70,329.10 L194.10,330.08 L194.50,330.98 L194.90,331.77 L195.30,332.45 L195.70,333.05 L196.10,333.64 L196.50,334.21 L196.90,334.71 L197.30,335.10 L197.70,335.34 L198.10,335.40 L198.50,335.29 L198.90,335.06 L199.30,334.75 L199.70,334.38 L200.10,333.99 L200.50,333.60 L200.90,333.16 L201.30,332.63 L201.70,332.06 L202.10,331.48 L202.50,330.94 L202.90,330.47 L203.30,330.02 L203.70,329.58 L204.10,329.14 L204.50,328.71 L204.90,328.29 L205.30,327.89 L205.70,327.51 L206.10,327.16 L206.50,326.83 L206.90,326.53 L207.30,326.26 L207.70,326.01 L208.10,325.76 L208.50,325.52 L208.90,325.30 L209.30,325.13 L209.70,325.03 L210.10,325.00 L210.50,325.04 L210.90,325.12 L211.30,325.24 L211.70,325.39 L212.10,325.55 L212.50,325.73 L212.90,325.91 L213.30,326.08 L213.70,326.25 L214.10,326.39 L214.50,326.50 L214.90,326.60 L215.30,326.69 L215.70,326.79 L216.10,326.88 L216.50,326.98 L216.90,327.08 L217.30,327.17 L217.70,327.27 L218.10,327.36 L218.50,327.45 L218.90,327.53 L219.30,327.62 L219.70,327.70 L220.10,327.78 L220.50,327.85 L220.90,327.92 L221.30,327.99 L221.70,328.05 L222.10,328.10 L222.50,328.15 L222.90,328.19 L223.30,328.23 L223.70,328.26 L224.10,328.28 L224.50,328.29 L224.90,328.30 L225.30,328.30 L225.70,328.30 L226.10,328.30 L226.50,328.30 L226.90,328.30 L227.30,328.30 L227.70,328.30 L228.10,328.30 L228.50,328.30 L228.90,328.30 L229.30,328.30 L229.70,328.30 L230.10,328.30 L230.50,328.30 L230.90,328.30 L231.30,328.30 L231.70,328.30 L232.10,328.30 L232.50,328.30 L232.90,328.30 L233.30,328.30 L233.70,328.30 L234.10,328.30 L234.50,328.30 L234.90,328.30 L235.30,328.30 L235.70,328.30 L236.10,328.30 L236.50,328.30 L236.90,328.30 L237.30,328.30 L237.70,328.30 L238.10,328.30 L238.50,328.30 L238.90,328.30 L239.30,328.30 L239.70,328.30 L240.10,328.30 L240.50,328.29 L240.90,328.29 L241.30,328.29 L241.70,328.29 L242.10,328.29 L242.50,328.29 L242.90,328.29 L243.30,328.29 L243.70,328.29 L244.10,328.29 L244.50,328.29 L244.90,328.29 L245.30,328.29 L245.70,328.29 L246.10,328.29 L246.50,328.29 L246.90,328.29 L247.30,328.28 L247.70,328.28 L248.10,328.28 L248.50,328.28 L248.90,328.28 L249.30,328.28 L249.70,328.28 L250.10,328.28 L250.50,328.28 L250.90,328.28 L251.30,328.28 L251.70,328.27 L252.10,328.27 L252.50,328.27 L252.90,328.27 L253.30,328.27 L253.70,328.27 L254.10,328.27 L254.50,328.26 L254.90,328.26 L255.30,328.26 L255.70,328.26 L256.10,328.26 L256.50,328.26 L256.90,328.26 L257.30,328.25 L257.70,328.25 L258.10,328.25 L258.50,328.25 L258.90,328.25 L259.30,328.24 L259.70,328.24 L260.10,328.24 L260.50,328.24 L260.90,328.24 L261.30,328.23 L261.70,328.23 L262.10,328.23 L262.50,328.23 L262.90,328.23 L263.30,328.22 L263.70,328.22 L264.10,328.22 L264.50,328.22 L264.90,328.21 L265.30,328.21 L265.70,328.21 L266.10,328.21 L266.50,328.20 L266.90,328.20 L267.30,328.20 L267.70,328.19 L268.10,328.19 L268.50,328.19 L268.90,328.18 L269.30,328.18 L269.70,328.18 L270.10,328.17 L270.50,328.17 L270.90,328.17 L271.30,328.16 L271.70,328.16 L272.10,328.16 L272.50,328.15 L272.90,328.15 L273.30,328.15 L273.70,328.14 L274.10,328.14 L274.50,328.13 L274.90,328.13 L275.30,328.13 L275.70,328.12 L276.10,328.12 L276.50,328.11 L276.90,328.11 L277.30,328.10 L277.70,328.10 L278.10,328.10 L278.50,328.09 L278.90,328.09 L279.30,328.08 L279.70,328.08 L280.10,328.07 L280.50,328.07 L280.90,328.06 L281.30,328.06 L281.70,328.05 L282.10,328.05 L282.50,328.04 L282.90,328.03 L283.30,328.03 L283.70,328.02 L284.10,328.02 L284.50,328.01 L284.90,328.01 L285.30,328.00 L285.70,327.99 L286.10,327.99 L286.50,327.98 L286.90,327.98 L287.30,327.97 L287.70,327.96 L288.10,327.96 L288.50,327.95 L288.90,327.94 L289.30,327.94 L289.70,327.93 L290.10,327.92 L290.50,327.92 L290.90,327.91 L291.30,327.90 L291.70,327.89 L292.10,327.89 L292.50,327.88 L292.90,327.87 L293.30,327.86 L293.70,327.86 L294.10,327.85 L294.50,327.84 L294.90,327.83 L295.30,327.82 L295.70,327.82 L296.10,327.81 L296.50,327.80" stroke="#1515f0" stroke-width="1.4" stroke-dasharray="1.2,1.0" stroke-linejoin="round"/>
</g>
<line x1="218.9" y1="163.2" x2="242.20000000000002" y2="163.2" stroke="#111" stroke-width="1.6"/>
<text x="244.20000000000002" y="166.79999999999998" font-size="10.2" text-anchor="start" fill="#1a1a1a" style="" >d=5.55mm</text>
<line x1="218.9" y1="175.29999999999998" x2="242.20000000000002" y2="175.29999999999998" stroke="#f01515" stroke-width="1.7" stroke-dasharray="3.4,2.6"/>
<text x="244.20000000000002" y="178.89999999999998" font-size="10.2" text-anchor="start" fill="#1a1a1a" style="" >d=2.775mm</text>
<line x1="218.9" y1="187.39999999999998" x2="242.20000000000002" y2="187.39999999999998" stroke="#1515f0" stroke-width="1.4" stroke-dasharray="1.2,1.0"/>
<text x="244.20000000000002" y="190.99999999999997" font-size="10.2" text-anchor="start" fill="#1a1a1a" style="" >d=2.0mm</text>
<rect x="409.3" y="152.9" width="241.2" height="193.70000000000002" fill="none" stroke="#555" stroke-width="1.3"/>
<line x1="405.5" y1="346.6" x2="409.3" y2="346.6" stroke="#555" stroke-width="1.0" />
<text x="402.8" y="349.90000000000003" font-size="9.5" text-anchor="end" fill="#222" style="" >50</text>
<line x1="407.1" y1="330.46" x2="409.3" y2="330.46" stroke="#555" stroke-width="1.0" />
<line x1="405.5" y1="314.32" x2="409.3" y2="314.32" stroke="#555" stroke-width="1.0" />
<text x="402.8" y="317.61666666666673" font-size="9.5" text-anchor="end" fill="#222" style="" >55</text>
<line x1="407.1" y1="298.18" x2="409.3" y2="298.18" stroke="#555" stroke-width="1.0" />
<line x1="405.5" y1="282.03" x2="409.3" y2="282.03" stroke="#555" stroke-width="1.0" />
<text x="402.8" y="285.33333333333337" font-size="9.5" text-anchor="end" fill="#222" style="" >60</text>
<line x1="407.1" y1="265.89" x2="409.3" y2="265.89" stroke="#555" stroke-width="1.0" />
<line x1="405.5" y1="249.75" x2="409.3" y2="249.75" stroke="#555" stroke-width="1.0" />
<text x="402.8" y="253.05" font-size="9.5" text-anchor="end" fill="#222" style="" >65</text>
<line x1="407.1" y1="233.61" x2="409.3" y2="233.61" stroke="#555" stroke-width="1.0" />
<line x1="405.5" y1="217.47" x2="409.3" y2="217.47" stroke="#555" stroke-width="1.0" />
<text x="402.8" y="220.7666666666667" font-size="9.5" text-anchor="end" fill="#222" style="" >70</text>
<line x1="407.1" y1="201.33" x2="409.3" y2="201.33" stroke="#555" stroke-width="1.0" />
<line x1="405.5" y1="185.18" x2="409.3" y2="185.18" stroke="#555" stroke-width="1.0" />
<text x="402.8" y="188.48333333333335" font-size="9.5" text-anchor="end" fill="#222" style="" >75</text>
<line x1="407.1" y1="169.04" x2="409.3" y2="169.04" stroke="#555" stroke-width="1.0" />
<line x1="405.5" y1="152.9" x2="409.3" y2="152.9" stroke="#555" stroke-width="1.0" />
<text x="402.8" y="156.20000000000002" font-size="9.5" text-anchor="end" fill="#222" style="" >80</text>
<line x1="409.3" y1="346.6" x2="409.3" y2="350.40000000000003" stroke="#555" stroke-width="1.0" />
<text x="409.3" y="360.5" font-size="9.5" text-anchor="middle" fill="#222" style="" >0.60</text>
<line x1="424.38" y1="346.6" x2="424.38" y2="348.8" stroke="#555" stroke-width="1.0" />
<line x1="439.45" y1="346.6" x2="439.45" y2="350.40000000000003" stroke="#555" stroke-width="1.0" />
<text x="439.45" y="360.5" font-size="9.5" text-anchor="middle" fill="#222" style="" >0.65</text>
<line x1="454.52" y1="346.6" x2="454.52" y2="348.8" stroke="#555" stroke-width="1.0" />
<line x1="469.6" y1="346.6" x2="469.6" y2="350.40000000000003" stroke="#555" stroke-width="1.0" />
<text x="469.6" y="360.5" font-size="9.5" text-anchor="middle" fill="#222" style="" >0.70</text>
<line x1="484.68" y1="346.6" x2="484.68" y2="348.8" stroke="#555" stroke-width="1.0" />
<line x1="499.75" y1="346.6" x2="499.75" y2="350.40000000000003" stroke="#555" stroke-width="1.0" />
<text x="499.75" y="360.5" font-size="9.5" text-anchor="middle" fill="#222" style="" >0.75</text>
<line x1="514.83" y1="346.6" x2="514.83" y2="348.8" stroke="#555" stroke-width="1.0" />
<line x1="529.9" y1="346.6" x2="529.9" y2="350.40000000000003" stroke="#555" stroke-width="1.0" />
<text x="529.9" y="360.5" font-size="9.5" text-anchor="middle" fill="#222" style="" >0.80</text>
<line x1="544.98" y1="346.6" x2="544.98" y2="348.8" stroke="#555" stroke-width="1.0" />
<line x1="560.05" y1="346.6" x2="560.05" y2="350.40000000000003" stroke="#555" stroke-width="1.0" />
<text x="560.05" y="360.5" font-size="9.5" text-anchor="middle" fill="#222" style="" >0.85</text>
<line x1="575.12" y1="346.6" x2="575.12" y2="348.8" stroke="#555" stroke-width="1.0" />
<line x1="590.2" y1="346.6" x2="590.2" y2="350.40000000000003" stroke="#555" stroke-width="1.0" />
<text x="590.2" y="360.5" font-size="9.5" text-anchor="middle" fill="#222" style="" >0.90</text>
<line x1="605.28" y1="346.6" x2="605.28" y2="348.8" stroke="#555" stroke-width="1.0" />
<line x1="620.35" y1="346.6" x2="620.35" y2="350.40000000000003" stroke="#555" stroke-width="1.0" />
<text x="620.35" y="360.5" font-size="9.5" text-anchor="middle" fill="#222" style="" >0.95</text>
<line x1="635.43" y1="346.6" x2="635.43" y2="348.8" stroke="#555" stroke-width="1.0" />
<line x1="650.5" y1="346.6" x2="650.5" y2="350.40000000000003" stroke="#555" stroke-width="1.0" />
<text x="650.5" y="360.5" font-size="9.5" text-anchor="middle" fill="#222" style="" >1.00</text>
<text x="529.4" y="377.1" font-size="11" text-anchor="middle" fill="#1a1a1a" style="" >Time(ns)</text>
<text x="0" y="0" font-size="10.7" text-anchor="middle" fill="#1a1a1a" transform="translate(383.0,244.75) rotate(-90)">Z(Ω)</text>
<clipPath id="clip409"><rect x="409.3" y="152.9" width="241.2" height="193.70000000000002"/></clipPath>
<g clip-path="url(#clip409)" fill="none">
<path d="M409.30,325.70 L409.70,325.72 L410.10,325.74 L410.50,325.76 L410.90,325.77 L411.30,325.79 L411.70,325.81 L412.10,325.82 L412.50,325.84 L412.90,325.86 L413.30,325.87 L413.70,325.89 L414.10,325.90 L414.50,325.91 L414.90,325.93 L415.30,325.94 L415.70,325.95 L416.10,325.96 L416.50,325.98 L416.90,325.99 L417.30,326.00 L417.70,326.01 L418.10,326.02 L418.50,326.03 L418.90,326.04 L419.30,326.05 L419.70,326.06 L420.10,326.06 L420.50,326.07 L420.90,326.08 L421.30,326.09 L421.70,326.09 L422.10,326.10 L422.50,326.11 L422.90,326.11 L423.30,326.12 L423.70,326.13 L424.10,326.13 L424.50,326.14 L424.90,326.14 L425.30,326.15 L425.70,326.15 L426.10,326.15 L426.50,326.16 L426.90,326.16 L427.30,326.16 L427.70,326.17 L428.10,326.17 L428.50,326.17 L428.90,326.18 L429.30,326.18 L429.70,326.18 L430.10,326.18 L430.50,326.19 L430.90,326.19 L431.30,326.19 L431.70,326.19 L432.10,326.19 L432.50,326.19 L432.90,326.19 L433.30,326.19 L433.70,326.20 L434.10,326.20 L434.50,326.20 L434.90,326.20 L435.30,326.20 L435.70,326.20 L436.10,326.20 L436.50,326.20 L436.90,326.20 L437.30,326.20 L437.70,326.20 L438.10,326.20 L438.50,326.20 L438.90,326.20 L439.30,326.20 L439.70,326.20 L440.10,326.20 L440.50,326.20 L440.90,326.19 L441.30,326.18 L441.70,326.17 L442.10,326.16 L442.50,326.14 L442.90,326.12 L443.30,326.10 L443.70,326.08 L444.10,326.05 L444.50,326.02 L444.90,325.99 L445.30,325.96 L445.70,325.93 L446.10,325.89 L446.50,325.85 L446.90,325.82 L447.30,325.78 L447.70,325.73 L448.10,325.69 L448.50,325.65 L448.90,325.61 L449.30,325.56 L449.70,325.51 L450.10,325.47 L450.50,325.42 L450.90,325.38 L451.30,325.33 L451.70,325.28 L452.10,325.23 L452.50,325.19 L452.90,325.14 L453.30,325.09 L453.70,325.05 L454.10,325.00 L454.50,324.96 L454.90,324.91 L455.30,324.87 L455.70,324.82 L456.10,324.78 L456.50,324.74 L456.90,324.70 L457.30,324.66 L457.70,324.61 L458.10,324.57 L458.50,324.53 L458.90,324.48 L459.30,324.43 L459.70,324.39 L460.10,324.34 L460.50,324.29 L460.90,324.23 L461.30,324.18 L461.70,324.12 L462.10,324.06 L462.50,323.99 L462.90,323.93 L463.30,323.86 L463.70,323.78 L464.10,323.71 L464.50,323.62 L464.90,323.54 L465.30,323.45 L465.70,323.35 L466.10,323.23 L466.50,323.09 L466.90,322.94 L467.30,322.76 L467.70,322.57 L468.10,322.37 L468.50,322.15 L468.90,321.92 L469.30,321.68 L469.70,321.42 L470.10,321.17 L470.50,320.90 L470.90,320.63 L471.30,320.35 L471.70,320.04 L472.10,319.71 L472.50,319.37 L472.90,319.00 L473.30,318.62 L473.70,318.21 L474.10,317.79 L474.50,317.34 L474.90,316.88 L475.30,316.39 L475.70,315.89 L476.10,315.37 L476.50,314.80 L476.90,314.17 L477.30,313.50 L477.70,312.78 L478.10,312.01 L478.50,311.20 L478.90,310.36 L479.30,309.47 L479.70,308.51 L480.10,307.47 L480.50,306.35 L480.90,305.17 L481.30,303.96 L481.70,302.71 L482.10,301.44 L482.50,300.11 L482.90,298.72 L483.30,297.27 L483.70,295.77 L484.10,294.22 L484.50,292.64 L484.90,291.02 L485.30,289.36 L485.70,287.64 L486.10,285.85 L486.50,283.99 L486.90,282.04 L487.30,280.00 L487.70,277.80 L488.10,275.42 L488.50,272.88 L488.90,270.24 L489.30,267.52 L489.70,264.77 L490.10,262.01 L490.50,259.29 L490.90,256.65 L491.30,254.08 L491.70,251.54 L492.10,249.01 L492.50,246.49 L492.90,243.97 L493.30,241.43 L493.70,238.88 L494.10,236.30 L494.50,233.68 L494.90,231.01 L495.30,228.30 L495.70,225.61 L496.10,222.95 L496.50,220.34 L496.90,217.70 L497.30,215.08 L497.70,212.50 L498.10,210.01 L498.50,207.63 L498.90,205.40 L499.30,203.22 L499.70,201.11 L500.10,199.06 L500.50,197.08 L500.90,195.18 L501.30,193.36 L501.70,191.63 L502.10,189.95 L502.50,188.12 L502.90,186.24 L503.30,184.46 L503.70,182.95 L504.10,181.85 L504.50,181.32 L504.90,181.44 L505.30,182.02 L505.70,182.97 L506.10,184.23 L506.50,185.72 L506.90,187.36 L507.30,189.08 L507.70,190.80 L508.10,192.74 L508.50,195.10 L508.90,197.77 L509.30,200.63 L509.70,203.58 L510.10,206.50 L510.50,209.47 L510.90,212.61 L511.30,215.84 L511.70,219.09 L512.10,222.30 L512.50,225.54 L512.90,228.83 L513.30,232.04 L513.70,235.00 L514.10,237.66 L514.50,240.12 L514.90,242.48 L515.30,244.86 L515.70,247.35 L516.10,250.06 L516.50,253.00 L516.90,256.05 L517.30,259.09 L517.70,262.02 L518.10,264.71 L518.50,267.06 L518.90,269.21 L519.30,271.26 L519.70,273.18 L520.10,274.97 L520.50,276.63 L520.90,278.14 L521.30,279.60 L521.70,281.13 L522.10,282.63 L522.50,283.94 L522.90,284.95 L523.30,285.52 L523.70,285.52 L524.10,284.95 L524.50,283.93 L524.90,282.61 L525.30,281.11 L525.70,279.59 L526.10,278.15 L526.50,276.68 L526.90,275.10 L527.30,273.40 L527.70,271.59 L528.10,269.64 L528.50,267.58 L528.90,265.35 L529.30,262.79 L529.70,259.95 L530.10,256.95 L530.50,253.88 L530.90,250.86 L531.30,248.00 L531.70,245.27 L532.10,242.56 L532.50,239.90 L532.90,237.26 L533.30,234.65 L533.70,232.02 L534.10,229.38 L534.50,226.78 L534.90,224.24 L535.30,221.80 L535.70,219.50 L536.10,217.29 L536.50,215.11 L536.90,212.99 L537.30,210.93 L537.70,208.97 L538.10,207.11 L538.50,205.38 L538.90,203.80 L539.30,202.22 L539.70,200.57 L540.10,198.94 L540.50,197.43 L540.90,196.15 L541.30,195.20 L541.70,194.67 L542.10,194.68 L542.50,195.26 L542.90,196.32 L543.30,197.73 L543.70,199.38 L544.10,201.16 L544.50,202.94 L544.90,204.67 L545.30,206.61 L545.70,208.76 L546.10,211.09 L546.50,213.57 L546.90,216.16 L547.30,218.83 L547.70,221.66 L548.10,224.86 L548.50,228.22 L548.90,231.54 L549.30,234.60 L549.70,237.26 L550.10,239.65 L550.50,241.92 L550.90,244.21 L551.30,246.66 L551.70,249.42 L552.10,252.46 L552.50,255.71 L552.90,259.09 L553.30,262.52 L553.70,265.91 L554.10,269.20 L554.50,272.40 L554.90,275.68 L555.30,279.01 L555.70,282.32 L556.10,285.57 L556.50,288.71 L556.90,291.68 L557.30,294.44 L557.70,296.93 L558.10,299.17 L558.50,301.32 L558.90,303.39 L559.30,305.35 L559.70,307.21 L560.10,308.95 L560.50,310.56 L560.90,312.04 L561.30,313.39 L561.70,314.59 L562.10,315.76 L562.50,316.90 L562.90,318.00 L563.30,319.05 L563.70,320.04 L564.10,320.95 L564.50,321.79 L564.90,322.53 L565.30,323.17 L565.70,323.70 L566.10,324.10 L566.50,324.42 L566.90,324.69 L567.30,324.93 L567.70,325.14 L568.10,325.33 L568.50,325.51 L568.90,325.69 L569.30,325.86 L569.70,326.05 L570.10,326.25 L570.50,326.46 L570.90,326.67 L571.30,326.89 L571.70,327.10 L572.10,327.32 L572.50,327.53 L572.90,327.74 L573.30,327.96 L573.70,328.16 L574.10,328.37 L574.50,328.57 L574.90,328.77 L575.30,328.96 L575.70,329.15 L576.10,329.32 L576.50,329.50 L576.90,329.66 L577.30,329.82 L577.70,329.99 L578.10,330.16 L578.50,330.34 L578.90,330.52 L579.30,330.69 L579.70,330.86 L580.10,331.02 L580.50,331.17 L580.90,331.31 L581.30,331.43 L581.70,331.53 L582.10,331.61 L582.50,331.67 L582.90,331.70 L583.30,331.70 L583.70,331.67 L584.10,331.63 L584.50,331.56 L584.90,331.48 L585.30,331.37 L585.70,331.26 L586.10,331.13 L586.50,330.99 L586.90,330.84 L587.30,330.68 L587.70,330.51 L588.10,330.24 L588.50,329.89 L588.90,329.47 L589.30,328.99 L589.70,328.48 L590.10,327.95 L590.50,327.42 L590.90,326.91 L591.30,326.43 L591.70,325.99 L592.10,325.61 L592.50,325.24 L592.90,324.86 L593.30,324.48 L593.70,324.11 L594.10,323.76 L594.50,323.42 L594.90,323.11 L595.30,322.83 L595.70,322.59 L596.10,322.38 L596.50,322.22 L596.90,322.07 L597.30,321.92 L597.70,321.78 L598.10,321.65 L598.50,321.53 L598.90,321.42 L599.30,321.33 L599.70,321.27 L600.10,321.22 L600.50,321.20 L600.90,321.20 L601.30,321.21 L601.70,321.23 L602.10,321.26 L602.50,321.29 L602.90,321.33 L603.30,321.37 L603.70,321.42 L604.10,321.47 L604.50,321.53 L604.90,321.59 L605.30,321.65 L605.70,321.72 L606.10,321.78 L606.50,321.85 L606.90,321.92 L607.30,321.98 L607.70,322.05 L608.10,322.11 L608.50,322.17 L608.90,322.23 L609.30,322.29 L609.70,322.34 L610.10,322.39 L610.50,322.45 L610.90,322.50 L611.30,322.55 L611.70,322.61 L612.10,322.66 L612.50,322.72 L612.90,322.77 L613.30,322.83 L613.70,322.88 L614.10,322.94 L614.50,323.00 L614.90,323.05 L615.30,323.11 L615.70,323.16 L616.10,323.22 L616.50,323.27 L616.90,323.33 L617.30,323.38 L617.70,323.43 L618.10,323.48 L618.50,323.54 L618.90,323.59 L619.30,323.64 L619.70,323.69 L620.10,323.74 L620.50,323.80 L620.90,323.85 L621.30,323.91 L621.70,323.97 L622.10,324.02 L622.50,324.08 L622.90,324.14 L623.30,324.19 L623.70,324.25 L624.10,324.30 L624.50,324.35 L624.90,324.41 L625.30,324.46 L625.70,324.51 L626.10,324.56 L626.50,324.60 L626.90,324.65 L627.30,324.69 L627.70,324.73 L628.10,324.77 L628.50,324.80 L628.90,324.83 L629.30,324.86 L629.70,324.88 L630.10,324.91 L630.50,324.92 L630.90,324.94 L631.30,324.96 L631.70,324.98 L632.10,325.00 L632.50,325.02 L632.90,325.04 L633.30,325.06 L633.70,325.08 L634.10,325.09 L634.50,325.11 L634.90,325.13 L635.30,325.15 L635.70,325.16 L636.10,325.18 L636.50,325.20 L636.90,325.21 L637.30,325.23 L637.70,325.24 L638.10,325.26 L638.50,325.27 L638.90,325.28 L639.30,325.30 L639.70,325.31 L640.10,325.32 L640.50,325.34 L640.90,325.35 L641.30,325.36 L641.70,325.37 L642.10,325.38 L642.50,325.39 L642.90,325.40 L643.30,325.41 L643.70,325.42 L644.10,325.43 L644.50,325.44 L644.90,325.45 L645.30,325.45 L645.70,325.46 L646.10,325.47 L646.50,325.47 L646.90,325.48 L647.30,325.48 L647.70,325.49 L648.10,325.49 L648.50,325.49 L648.90,325.50 L649.30,325.50 L649.70,325.50 L650.10,325.50 L650.40,325.50" stroke="#111" stroke-width="1.75" stroke-linejoin="round"/>
<path d="M409.30,327.50 L409.70,327.51 L410.10,327.51 L410.50,327.52 L410.90,327.53 L411.30,327.53 L411.70,327.54 L412.10,327.54 L412.50,327.55 L412.90,327.56 L413.30,327.56 L413.70,327.57 L414.10,327.58 L414.50,327.58 L414.90,327.59 L415.30,327.59 L415.70,327.60 L416.10,327.60 L416.50,327.61 L416.90,327.62 L417.30,327.62 L417.70,327.63 L418.10,327.63 L418.50,327.64 L418.90,327.64 L419.30,327.65 L419.70,327.65 L420.10,327.66 L420.50,327.66 L420.90,327.67 L421.30,327.67 L421.70,327.68 L422.10,327.68 L422.50,327.69 L422.90,327.69 L423.30,327.70 L423.70,327.70 L424.10,327.71 L424.50,327.71 L424.90,327.72 L425.30,327.72 L425.70,327.72 L426.10,327.73 L426.50,327.73 L426.90,327.74 L427.30,327.74 L427.70,327.74 L428.10,327.75 L428.50,327.75 L428.90,327.75 L429.30,327.76 L429.70,327.76 L430.10,327.76 L430.50,327.76 L430.90,327.77 L431.30,327.77 L431.70,327.77 L432.10,327.78 L432.50,327.78 L432.90,327.78 L433.30,327.78 L433.70,327.78 L434.10,327.79 L434.50,327.79 L434.90,327.79 L435.30,327.79 L435.70,327.79 L436.10,327.79 L436.50,327.79 L436.90,327.80 L437.30,327.80 L437.70,327.80 L438.10,327.80 L438.50,327.80 L438.90,327.80 L439.30,327.80 L439.70,327.80 L440.10,327.80 L440.50,327.80 L440.90,327.80 L441.30,327.80 L441.70,327.80 L442.10,327.80 L442.50,327.80 L442.90,327.80 L443.30,327.80 L443.70,327.80 L444.10,327.80 L444.50,327.80 L444.90,327.80 L445.30,327.80 L445.70,327.80 L446.10,327.80 L446.50,327.80 L446.90,327.80 L447.30,327.80 L447.70,327.80 L448.10,327.80 L448.50,327.80 L448.90,327.80 L449.30,327.80 L449.70,327.80 L450.10,327.80 L450.50,327.80 L450.90,327.80 L451.30,327.80 L451.70,327.80 L452.10,327.80 L452.50,327.80 L452.90,327.80 L453.30,327.80 L453.70,327.80 L454.10,327.80 L454.50,327.80 L454.90,327.80 L455.30,327.80 L455.70,327.79 L456.10,327.79 L456.50,327.77 L456.90,327.76 L457.30,327.74 L457.70,327.72 L458.10,327.70 L458.50,327.67 L458.90,327.64 L459.30,327.61 L459.70,327.58 L460.10,327.54 L460.50,327.51 L460.90,327.47 L461.30,327.43 L461.70,327.39 L462.10,327.35 L462.50,327.31 L462.90,327.27 L463.30,327.23 L463.70,327.19 L464.10,327.14 L464.50,327.10 L464.90,327.06 L465.30,327.02 L465.70,326.98 L466.10,326.94 L466.50,326.90 L466.90,326.86 L467.30,326.81 L467.70,326.77 L468.10,326.73 L468.50,326.68 L468.90,326.63 L469.30,326.58 L469.70,326.53 L470.10,326.48 L470.50,326.43 L470.90,326.38 L471.30,326.32 L471.70,326.26 L472.10,326.20 L472.50,326.14 L472.90,326.08 L473.30,326.01 L473.70,325.94 L474.10,325.87 L474.50,325.80 L474.90,325.72 L475.30,325.64 L475.70,325.56 L476.10,325.48 L476.50,325.39 L476.90,325.29 L477.30,325.19 L477.70,325.08 L478.10,324.96 L478.50,324.84 L478.90,324.71 L479.30,324.57 L479.70,324.43 L480.10,324.28 L480.50,324.12 L480.90,323.96 L481.30,323.79 L481.70,323.62 L482.10,323.44 L482.50,323.25 L482.90,323.05 L483.30,322.85 L483.70,322.64 L484.10,322.41 L484.50,322.15 L484.90,321.88 L485.30,321.58 L485.70,321.27 L486.10,320.95 L486.50,320.60 L486.90,320.25 L487.30,319.88 L487.70,319.50 L488.10,319.10 L488.50,318.70 L488.90,318.28 L489.30,317.83 L489.70,317.34 L490.10,316.83 L490.50,316.29 L490.90,315.73 L491.30,315.16 L491.70,314.56 L492.10,313.96 L492.50,313.36 L492.90,312.75 L493.30,312.14 L493.70,311.52 L494.10,310.90 L494.50,310.25 L494.90,309.58 L495.30,308.87 L495.70,308.13 L496.10,307.34 L496.50,306.50 L496.90,305.59 L497.30,304.59 L497.70,303.53 L498.10,302.39 L498.50,301.20 L498.90,299.96 L499.30,298.67 L499.70,297.35 L500.10,296.00 L500.50,294.59 L500.90,293.09 L501.30,291.51 L501.70,289.88 L502.10,288.20 L502.50,286.48 L502.90,284.74 L503.30,283.00 L503.70,281.24 L504.10,279.45 L504.50,277.62 L504.90,275.77 L505.30,273.89 L505.70,271.99 L506.10,270.06 L506.50,268.12 L506.90,266.16 L507.30,264.18 L507.70,262.20 L508.10,260.19 L508.50,258.12 L508.90,256.00 L509.30,253.86 L509.70,251.71 L510.10,249.58 L510.50,247.50 L510.90,245.49 L511.30,243.51 L511.70,241.45 L512.10,239.38 L512.50,237.37 L512.90,235.49 L513.30,233.80 L513.70,232.39 L514.10,231.27 L514.50,230.28 L514.90,229.42 L515.30,228.69 L515.70,228.12 L516.10,227.67 L516.50,227.25 L516.90,226.89 L517.30,226.63 L517.70,226.51 L518.10,226.53 L518.50,226.67 L518.90,226.90 L519.30,227.19 L519.70,227.53 L520.10,227.90 L520.50,228.39 L520.90,229.05 L521.30,229.86 L521.70,230.80 L522.10,232.10 L522.50,233.87 L522.90,235.85 L523.30,237.84 L523.70,239.62 L524.10,241.30 L524.50,242.98 L524.90,244.63 L525.30,246.26 L525.70,247.83 L526.10,249.35 L526.50,250.80 L526.90,252.18 L527.30,253.50 L527.70,254.78 L528.10,256.00 L528.50,257.15 L528.90,258.24 L529.30,259.27 L529.70,260.30 L530.10,261.28 L530.50,262.21 L530.90,263.07 L531.30,263.82 L531.70,264.45 L532.10,265.01 L532.50,265.52 L532.90,265.99 L533.30,266.42 L533.70,266.81 L534.10,267.17 L534.50,267.50 L534.90,267.78 L535.30,268.01 L535.70,268.21 L536.10,268.40 L536.50,268.61 L536.90,268.84 L537.30,269.13 L537.70,269.49 L538.10,269.94 L538.50,270.47 L538.90,271.09 L539.30,271.79 L539.70,272.58 L540.10,273.44 L540.50,274.39 L540.90,275.42 L541.30,276.52 L541.70,277.76 L542.10,279.47 L542.50,281.57 L542.90,283.94 L543.30,286.44 L543.70,288.94 L544.10,291.30 L544.50,293.40 L544.90,295.30 L545.30,297.10 L545.70,298.87 L546.10,300.65 L546.50,302.50 L546.90,304.48 L547.30,306.65 L547.70,309.03 L548.10,311.53 L548.50,314.09 L548.90,316.61 L549.30,319.02 L549.70,321.24 L550.10,323.36 L550.50,325.41 L550.90,327.36 L551.30,329.16 L551.70,330.82 L552.10,332.43 L552.50,333.90 L552.90,335.07 L553.30,335.96 L553.70,336.78 L554.10,337.35 L554.50,337.49 L554.90,337.34 L555.30,337.05 L555.70,336.68 L556.10,336.30 L556.50,335.83 L556.90,335.24 L557.30,334.61 L557.70,333.96 L558.10,333.35 L558.50,332.73 L558.90,332.09 L559.30,331.47 L559.70,330.89 L560.10,330.38 L560.50,329.93 L560.90,329.50 L561.30,329.10 L561.70,328.72 L562.10,328.35 L562.50,327.99 L562.90,327.64 L563.30,327.28 L563.70,326.91 L564.10,326.51 L564.50,326.10 L564.90,325.69 L565.30,325.30 L565.70,324.95 L566.10,324.64 L566.50,324.40 L566.90,324.20 L567.30,324.00 L567.70,323.81 L568.10,323.63 L568.50,323.47 L568.90,323.33 L569.30,323.22 L569.70,323.15 L570.10,323.11 L570.50,323.10 L570.90,323.12 L571.30,323.17 L571.70,323.23 L572.10,323.31 L572.50,323.40 L572.90,323.51 L573.30,323.63 L573.70,323.76 L574.10,323.90 L574.50,324.04 L574.90,324.20 L575.30,324.36 L575.70,324.52 L576.10,324.68 L576.50,324.84 L576.90,325.00 L577.30,325.16 L577.70,325.31 L578.10,325.46 L578.50,325.59 L578.90,325.72 L579.30,325.84 L579.70,325.94 L580.10,326.03 L580.50,326.10 L580.90,326.16 L581.30,326.19 L581.70,326.22 L582.10,326.24 L582.50,326.25 L582.90,326.27 L583.30,326.29 L583.70,326.31 L584.10,326.32 L584.50,326.34 L584.90,326.35 L585.30,326.37 L585.70,326.38 L586.10,326.40 L586.50,326.41 L586.90,326.42 L587.30,326.43 L587.70,326.44 L588.10,326.45 L588.50,326.46 L588.90,326.47 L589.30,326.47 L589.70,326.48 L590.10,326.48 L590.50,326.49 L590.90,326.49 L591.30,326.50 L591.70,326.50 L592.10,326.50 L592.50,326.50 L592.90,326.50 L593.30,326.51 L593.70,326.51 L594.10,326.51 L594.50,326.51 L594.90,326.51 L595.30,326.51 L595.70,326.51 L596.10,326.52 L596.50,326.52 L596.90,326.52 L597.30,326.52 L597.70,326.52 L598.10,326.52 L598.50,326.52 L598.90,326.53 L599.30,326.53 L599.70,326.53 L600.10,326.53 L600.50,326.53 L600.90,326.53 L601.30,326.53 L601.70,326.54 L602.10,326.54 L602.50,326.54 L602.90,326.54 L603.30,326.54 L603.70,326.54 L604.10,326.54 L604.50,326.54 L604.90,326.54 L605.30,326.55 L605.70,326.55 L606.10,326.55 L606.50,326.55 L606.90,326.55 L607.30,326.55 L607.70,326.55 L608.10,326.55 L608.50,326.55 L608.90,326.56 L609.30,326.56 L609.70,326.56 L610.10,326.56 L610.50,326.56 L610.90,326.56 L611.30,326.56 L611.70,326.56 L612.10,326.56 L612.50,326.56 L612.90,326.56 L613.30,326.57 L613.70,326.57 L614.10,326.57 L614.50,326.57 L614.90,326.57 L615.30,326.57 L615.70,326.57 L616.10,326.57 L616.50,326.57 L616.90,326.57 L617.30,326.57 L617.70,326.57 L618.10,326.57 L618.50,326.58 L618.90,326.58 L619.30,326.58 L619.70,326.58 L620.10,326.58 L620.50,326.58 L620.90,326.58 L621.30,326.58 L621.70,326.58 L622.10,326.58 L622.50,326.58 L622.90,326.58 L623.30,326.58 L623.70,326.58 L624.10,326.58 L624.50,326.58 L624.90,326.59 L625.30,326.59 L625.70,326.59 L626.10,326.59 L626.50,326.59 L626.90,326.59 L627.30,326.59 L627.70,326.59 L628.10,326.59 L628.50,326.59 L628.90,326.59 L629.30,326.59 L629.70,326.59 L630.10,326.59 L630.50,326.59 L630.90,326.59 L631.30,326.59 L631.70,326.59 L632.10,326.59 L632.50,326.59 L632.90,326.59 L633.30,326.59 L633.70,326.59 L634.10,326.59 L634.50,326.59 L634.90,326.59 L635.30,326.60 L635.70,326.60 L636.10,326.60 L636.50,326.60 L636.90,326.60 L637.30,326.60 L637.70,326.60 L638.10,326.60 L638.50,326.60 L638.90,326.60 L639.30,326.60 L639.70,326.60 L640.10,326.60 L640.50,326.60 L640.90,326.60 L641.30,326.60 L641.70,326.60 L642.10,326.60 L642.50,326.60 L642.90,326.60 L643.30,326.60 L643.70,326.60 L644.10,326.60 L644.50,326.60 L644.90,326.60 L645.30,326.60 L645.70,326.60 L646.10,326.60 L646.50,326.60 L646.90,326.60 L647.30,326.60 L647.70,326.60 L648.10,326.60 L648.50,326.60 L648.90,326.60 L649.30,326.60 L649.70,326.60 L650.10,326.60 L650.40,326.60" stroke="#f01515" stroke-width="1.7" stroke-dasharray="3.4,2.3" stroke-linejoin="round"/>
<path d="M409.30,329.70 L409.70,329.68 L410.10,329.67 L410.50,329.65 L410.90,329.64 L411.30,329.62 L411.70,329.61 L412.10,329.59 L412.50,329.58 L412.90,329.56 L413.30,329.55 L413.70,329.53 L414.10,329.52 L414.50,329.51 L414.90,329.49 L415.30,329.48 L415.70,329.46 L416.10,329.45 L416.50,329.44 L416.90,329.42 L417.30,329.41 L417.70,329.40 L418.10,329.38 L418.50,329.37 L418.90,329.36 L419.30,329.34 L419.70,329.33 L420.10,329.32 L420.50,329.31 L420.90,329.30 L421.30,329.28 L421.70,329.27 L422.10,329.26 L422.50,329.25 L422.90,329.24 L423.30,329.23 L423.70,329.21 L424.10,329.20 L424.50,329.19 L424.90,329.18 L425.30,329.17 L425.70,329.16 L426.10,329.15 L426.50,329.14 L426.90,329.13 L427.30,329.12 L427.70,329.11 L428.10,329.10 L428.50,329.09 L428.90,329.08 L429.30,329.07 L429.70,329.07 L430.10,329.06 L430.50,329.05 L430.90,329.04 L431.30,329.03 L431.70,329.02 L432.10,329.02 L432.50,329.01 L432.90,329.00 L433.30,328.99 L433.70,328.99 L434.10,328.98 L434.50,328.97 L434.90,328.97 L435.30,328.96 L435.70,328.95 L436.10,328.95 L436.50,328.94 L436.90,328.94 L437.30,328.93 L437.70,328.93 L438.10,328.92 L438.50,328.92 L438.90,328.91 L439.30,328.91 L439.70,328.90 L440.10,328.90 L440.50,328.90 L440.90,328.89 L441.30,328.89 L441.70,328.88 L442.10,328.88 L442.50,328.88 L442.90,328.88 L443.30,328.87 L443.70,328.87 L444.10,328.87 L444.50,328.87 L444.90,328.86 L445.30,328.86 L445.70,328.86 L446.10,328.86 L446.50,328.86 L446.90,328.85 L447.30,328.85 L447.70,328.85 L448.10,328.85 L448.50,328.85 L448.90,328.84 L449.30,328.84 L449.70,328.84 L450.10,328.84 L450.50,328.84 L450.90,328.83 L451.30,328.83 L451.70,328.83 L452.10,328.83 L452.50,328.82 L452.90,328.82 L453.30,328.82 L453.70,328.81 L454.10,328.81 L454.50,328.81 L454.90,328.80 L455.30,328.80 L455.70,328.79 L456.10,328.79 L456.50,328.78 L456.90,328.78 L457.30,328.77 L457.70,328.77 L458.10,328.76 L458.50,328.75 L458.90,328.75 L459.30,328.74 L459.70,328.73 L460.10,328.73 L460.50,328.72 L460.90,328.71 L461.30,328.70 L461.70,328.69 L462.10,328.69 L462.50,328.68 L462.90,328.67 L463.30,328.66 L463.70,328.65 L464.10,328.64 L464.50,328.63 L464.90,328.61 L465.30,328.60 L465.70,328.59 L466.10,328.58 L466.50,328.57 L466.90,328.55 L467.30,328.54 L467.70,328.52 L468.10,328.51 L468.50,328.49 L468.90,328.48 L469.30,328.46 L469.70,328.45 L470.10,328.43 L470.50,328.41 L470.90,328.40 L471.30,328.38 L471.70,328.35 L472.10,328.32 L472.50,328.29 L472.90,328.26 L473.30,328.22 L473.70,328.19 L474.10,328.14 L474.50,328.10 L474.90,328.05 L475.30,328.00 L475.70,327.95 L476.10,327.89 L476.50,327.84 L476.90,327.78 L477.30,327.71 L477.70,327.65 L478.10,327.59 L478.50,327.52 L478.90,327.45 L479.30,327.38 L479.70,327.31 L480.10,327.23 L480.50,327.16 L480.90,327.08 L481.30,327.00 L481.70,326.92 L482.10,326.83 L482.50,326.74 L482.90,326.64 L483.30,326.54 L483.70,326.43 L484.10,326.31 L484.50,326.19 L484.90,326.06 L485.30,325.92 L485.70,325.78 L486.10,325.62 L486.50,325.47 L486.90,325.30 L487.30,325.12 L487.70,324.94 L488.10,324.75 L488.50,324.55 L488.90,324.34 L489.30,324.08 L489.70,323.80 L490.10,323.49 L490.50,323.15 L490.90,322.78 L491.30,322.39 L491.70,321.98 L492.10,321.56 L492.50,321.12 L492.90,320.67 L493.30,320.21 L493.70,319.74 L494.10,319.26 L494.50,318.76 L494.90,318.23 L495.30,317.67 L495.70,317.08 L496.10,316.46 L496.50,315.82 L496.90,315.16 L497.30,314.46 L497.70,313.74 L498.10,313.00 L498.50,312.21 L498.90,311.37 L499.30,310.47 L499.70,309.53 L500.10,308.55 L500.50,307.54 L500.90,306.50 L501.30,305.45 L501.70,304.40 L502.10,303.33 L502.50,302.25 L502.90,301.13 L503.30,299.99 L503.70,298.82 L504.10,297.63 L504.50,296.43 L504.90,295.20 L505.30,293.97 L505.70,292.73 L506.10,291.49 L506.50,290.24 L506.90,288.98 L507.30,287.70 L507.70,286.40 L508.10,285.07 L508.50,283.70 L508.90,282.30 L509.30,280.83 L509.70,279.30 L510.10,277.71 L510.50,276.08 L510.90,274.43 L511.30,272.78 L511.70,271.15 L512.10,269.54 L512.50,267.99 L512.90,266.50 L513.30,265.05 L513.70,263.62 L514.10,262.20 L514.50,260.80 L514.90,259.42 L515.30,258.06 L515.70,256.72 L516.10,255.41 L516.50,254.14 L516.90,252.89 L517.30,251.68 L517.70,250.51 L518.10,249.32 L518.50,248.15 L518.90,247.04 L519.30,246.03 L519.70,245.18 L520.10,244.46 L520.50,243.73 L520.90,243.07 L521.30,242.53 L521.70,242.18 L522.10,242.11 L522.50,242.35 L522.90,242.85 L523.30,243.55 L523.70,244.36 L524.10,245.24 L524.50,246.55 L524.90,248.22 L525.30,249.98 L525.70,251.59 L526.10,253.18 L526.50,254.78 L526.90,256.39 L527.30,258.01 L527.70,259.64 L528.10,261.26 L528.50,262.88 L528.90,264.50 L529.30,266.10 L529.70,267.70 L530.10,269.32 L530.50,270.95 L530.90,272.58 L531.30,274.21 L531.70,275.82 L532.10,277.40 L532.50,278.96 L532.90,280.47 L533.30,281.94 L533.70,283.36 L534.10,284.73 L534.50,286.07 L534.90,287.37 L535.30,288.66 L535.70,289.93 L536.10,291.19 L536.50,292.45 L536.90,293.72 L537.30,295.00 L537.70,296.28 L538.10,297.56 L538.50,298.82 L538.90,300.09 L539.30,301.35 L539.70,302.62 L540.10,303.90 L540.50,305.19 L540.90,306.50 L541.30,307.84 L541.70,309.23 L542.10,310.64 L542.50,312.05 L542.90,313.45 L543.30,314.80 L543.70,316.09 L544.10,317.29 L544.50,318.43 L544.90,319.50 L545.30,320.54 L545.70,321.56 L546.10,322.56 L546.50,323.57 L546.90,324.60 L547.30,325.67 L547.70,326.79 L548.10,327.94 L548.50,329.09 L548.90,330.20 L549.30,331.25 L549.70,332.25 L550.10,333.25 L550.50,334.19 L550.90,335.01 L551.30,335.64 L551.70,336.23 L552.10,336.78 L552.50,337.24 L552.90,337.53 L553.30,337.60 L553.70,337.53 L554.10,337.40 L554.50,337.21 L554.90,336.98 L555.30,336.73 L555.70,336.34 L556.10,335.81 L556.50,335.21 L556.90,334.63 L557.30,334.10 L557.70,333.55 L558.10,333.00 L558.50,332.46 L558.90,331.93 L559.30,331.42 L559.70,330.90 L560.10,330.39 L560.50,329.89 L560.90,329.40 L561.30,328.94 L561.70,328.50 L562.10,328.10 L562.50,327.68 L562.90,327.25 L563.30,326.82 L563.70,326.42 L564.10,326.07 L564.50,325.80 L564.90,325.64 L565.30,325.60 L565.70,325.64 L566.10,325.71 L566.50,325.82 L566.90,325.96 L567.30,326.11 L567.70,326.28 L568.10,326.46 L568.50,326.64 L568.90,326.81 L569.30,326.97 L569.70,327.11 L570.10,327.23 L570.50,327.34 L570.90,327.45 L571.30,327.57 L571.70,327.69 L572.10,327.80 L572.50,327.91 L572.90,328.01 L573.30,328.10 L573.70,328.17 L574.10,328.23 L574.50,328.28 L574.90,328.30 L575.30,328.30 L575.70,328.31 L576.10,328.31 L576.50,328.32 L576.90,328.32 L577.30,328.32 L577.70,328.33 L578.10,328.33 L578.50,328.34 L578.90,328.34 L579.30,328.34 L579.70,328.35 L580.10,328.35 L580.50,328.36 L580.90,328.36 L581.30,328.36 L581.70,328.37 L582.10,328.37 L582.50,328.37 L582.90,328.38 L583.30,328.38 L583.70,328.39 L584.10,328.39 L584.50,328.39 L584.90,328.40 L585.30,328.40 L585.70,328.40 L586.10,328.41 L586.50,328.41 L586.90,328.41 L587.30,328.42 L587.70,328.42 L588.10,328.42 L588.50,328.42 L588.90,328.43 L589.30,328.43 L589.70,328.43 L590.10,328.44 L590.50,328.44 L590.90,328.44 L591.30,328.44 L591.70,328.45 L592.10,328.45 L592.50,328.45 L592.90,328.46 L593.30,328.46 L593.70,328.46 L594.10,328.46 L594.50,328.47 L594.90,328.47 L595.30,328.47 L595.70,328.47 L596.10,328.48 L596.50,328.48 L596.90,328.48 L597.30,328.48 L597.70,328.49 L598.10,328.49 L598.50,328.49 L598.90,328.49 L599.30,328.49 L599.70,328.50 L600.10,328.50 L600.50,328.50 L600.90,328.50 L601.30,328.51 L601.70,328.51 L602.10,328.51 L602.50,328.51 L602.90,328.51 L603.30,328.52 L603.70,328.52 L604.10,328.52 L604.50,328.52 L604.90,328.52 L605.30,328.52 L605.70,328.53 L606.10,328.53 L606.50,328.53 L606.90,328.53 L607.30,328.53 L607.70,328.53 L608.10,328.54 L608.50,328.54 L608.90,328.54 L609.30,328.54 L609.70,328.54 L610.10,328.54 L610.50,328.55 L610.90,328.55 L611.30,328.55 L611.70,328.55 L612.10,328.55 L612.50,328.55 L612.90,328.55 L613.30,328.55 L613.70,328.56 L614.10,328.56 L614.50,328.56 L614.90,328.56 L615.30,328.56 L615.70,328.56 L616.10,328.56 L616.50,328.56 L616.90,328.56 L617.30,328.57 L617.70,328.57 L618.10,328.57 L618.50,328.57 L618.90,328.57 L619.30,328.57 L619.70,328.57 L620.10,328.57 L620.50,328.57 L620.90,328.57 L621.30,328.58 L621.70,328.58 L622.10,328.58 L622.50,328.58 L622.90,328.58 L623.30,328.58 L623.70,328.58 L624.10,328.58 L624.50,328.58 L624.90,328.58 L625.30,328.58 L625.70,328.58 L626.10,328.58 L626.50,328.58 L626.90,328.59 L627.30,328.59 L627.70,328.59 L628.10,328.59 L628.50,328.59 L628.90,328.59 L629.30,328.59 L629.70,328.59 L630.10,328.59 L630.50,328.59 L630.90,328.59 L631.30,328.59 L631.70,328.59 L632.10,328.59 L632.50,328.59 L632.90,328.59 L633.30,328.59 L633.70,328.59 L634.10,328.59 L634.50,328.59 L634.90,328.59 L635.30,328.60 L635.70,328.60 L636.10,328.60 L636.50,328.60 L636.90,328.60 L637.30,328.60 L637.70,328.60 L638.10,328.60 L638.50,328.60 L638.90,328.60 L639.30,328.60 L639.70,328.60 L640.10,328.60 L640.50,328.60 L640.90,328.60 L641.30,328.60 L641.70,328.60 L642.10,328.60 L642.50,328.60 L642.90,328.60 L643.30,328.60 L643.70,328.60 L644.10,328.60 L644.50,328.60 L644.90,328.60 L645.30,328.60 L645.70,328.60 L646.10,328.60 L646.50,328.60 L646.90,328.60 L647.30,328.60 L647.70,328.60 L648.10,328.60 L648.50,328.60 L648.90,328.60 L649.30,328.60 L649.70,328.60 L650.10,328.60 L650.40,328.60" stroke="#1515f0" stroke-width="1.4" stroke-dasharray="1.2,1.0" stroke-linejoin="round"/>
</g>
<line x1="571.4" y1="160.8" x2="594.6999999999999" y2="160.8" stroke="#111" stroke-width="1.6"/>
<text x="596.6999999999999" y="164.4" font-size="10.2" text-anchor="start" fill="#1a1a1a" style="" >d=5.55mm</text>
<line x1="571.4" y1="173.4" x2="594.6999999999999" y2="173.4" stroke="#f01515" stroke-width="1.7" stroke-dasharray="3.4,2.6"/>
<text x="596.6999999999999" y="177.0" font-size="10.2" text-anchor="start" fill="#1a1a1a" style="" >d=2.775mm</text>
<line x1="571.4" y1="186.0" x2="594.6999999999999" y2="186.0" stroke="#1515f0" stroke-width="1.4" stroke-dasharray="1.2,1.0"/>
<text x="596.6999999999999" y="189.6" font-size="10.2" text-anchor="start" fill="#1a1a1a" style="" >d=2.0mm</text>
<text x="0.4" y="152.7" font-size="20" text-anchor="start" fill="#222" style="" >(c)</text>
<rect x="214" y="156.2" width="0.9" height="1" fill="#4040ff"/>
<text x="351.9" y="152.6" font-size="20" text-anchor="start" fill="#222" style="" >(d)</text></svg>
</body></html>
